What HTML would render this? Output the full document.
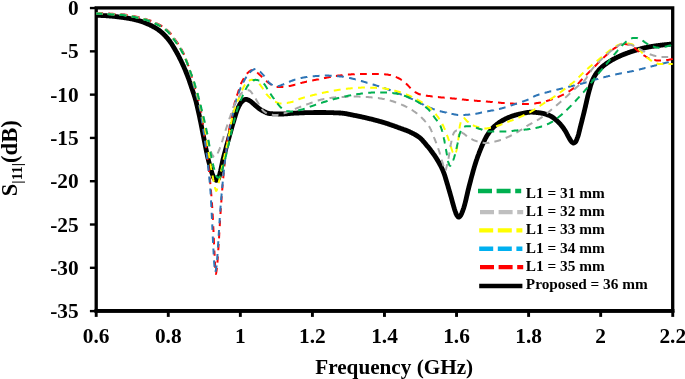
<!DOCTYPE html>
<html lang="en"><head><meta charset="utf-8"><title>S11 versus frequency for different L1</title>
<style>html,body{margin:0;padding:0;background:#fff}svg{display:block;will-change:transform;transform:translateZ(0)}text{font-family:"Liberation Serif","Times New Roman",serif;font-weight:bold;fill:#000}</style></head><body>
<svg width="685" height="379" viewBox="0 0 685 379">
<rect width="685" height="379" fill="#fff"/>
<rect x="96.2" y="7.9" width="576.5" height="303.1" fill="none" stroke="#000" stroke-width="3.3"/>
<line x1="94.55" y1="310.95" x2="674.40" y2="310.95" stroke="#000" stroke-width="3.8"/>
<g stroke="#000">
<line x1="96.20" y1="310.95" x2="96.20" y2="316.90" stroke-width="2.9"/>
<line x1="168.27" y1="310.95" x2="168.27" y2="316.90" stroke-width="2.9"/>
<line x1="240.34" y1="310.95" x2="240.34" y2="316.90" stroke-width="2.9"/>
<line x1="312.41" y1="310.95" x2="312.41" y2="316.90" stroke-width="2.9"/>
<line x1="384.47" y1="310.95" x2="384.47" y2="316.90" stroke-width="2.9"/>
<line x1="456.54" y1="310.95" x2="456.54" y2="316.90" stroke-width="2.9"/>
<line x1="528.61" y1="310.95" x2="528.61" y2="316.90" stroke-width="2.9"/>
<line x1="600.68" y1="310.95" x2="600.68" y2="316.90" stroke-width="2.9"/>
<line x1="672.75" y1="310.95" x2="672.75" y2="316.90" stroke-width="2.9"/>
<line x1="89.90" y1="8.05" x2="96.20" y2="8.05" stroke-width="2.4"/>
<line x1="89.90" y1="51.34" x2="96.20" y2="51.34" stroke-width="2.4"/>
<line x1="89.90" y1="94.64" x2="96.20" y2="94.64" stroke-width="2.4"/>
<line x1="89.90" y1="137.93" x2="96.20" y2="137.93" stroke-width="2.4"/>
<line x1="89.90" y1="181.22" x2="96.20" y2="181.22" stroke-width="2.4"/>
<line x1="89.90" y1="224.51" x2="96.20" y2="224.51" stroke-width="2.4"/>
<line x1="89.90" y1="267.81" x2="96.20" y2="267.81" stroke-width="2.4"/>
<line x1="89.90" y1="311.10" x2="96.20" y2="311.10" stroke-width="2.4"/>
</g>
<g fill="none" stroke-linejoin="round">
<path d="M96.2 15.3 L96.6 15.3 L97.0 15.3 L97.4 15.3 L97.8 15.3 L98.2 15.3 L98.6 15.4 L99.0 15.4 L99.4 15.4 L99.8 15.4 L100.2 15.4 L100.6 15.4 L101.0 15.5 L101.4 15.5 L101.8 15.5 L102.2 15.5 L102.6 15.5 L103.0 15.6 L103.4 15.6 L103.8 15.6 L104.2 15.6 L104.6 15.6 L105.0 15.7 L105.4 15.7 L105.8 15.7 L106.2 15.7 L106.6 15.8 L107.0 15.8 L107.4 15.8 L107.8 15.8 L108.2 15.9 L108.6 15.9 L109.0 15.9 L109.4 16.0 L109.8 16.0 L110.2 16.0 L110.6 16.0 L111.0 16.1 L111.4 16.1 L111.8 16.1 L112.2 16.2 L112.6 16.2 L113.0 16.3 L113.4 16.3 L113.8 16.3 L114.2 16.4 L114.6 16.4 L115.0 16.5 L115.4 16.5 L115.8 16.6 L116.2 16.6 L116.6 16.7 L117.0 16.7 L117.4 16.8 L117.8 16.8 L118.2 16.9 L118.6 16.9 L119.0 17.0 L119.4 17.0 L119.8 17.1 L120.2 17.1 L120.6 17.2 L121.0 17.2 L121.4 17.3 L121.8 17.3 L122.2 17.4 L122.6 17.4 L123.0 17.5 L123.4 17.5 L123.8 17.6 L124.2 17.7 L124.6 17.7 L125.0 17.8 L125.4 17.8 L125.8 17.9 L126.2 18.0 L126.6 18.0 L127.0 18.1 L127.4 18.1 L127.8 18.2 L128.2 18.3 L128.6 18.4 L129.0 18.4 L129.4 18.5 L129.8 18.6 L130.2 18.6 L130.6 18.7 L131.0 18.8 L131.4 18.9 L131.8 18.9 L132.2 19.0 L132.6 19.1 L133.0 19.2 L133.4 19.3 L133.8 19.4 L134.2 19.5 L134.6 19.6 L135.0 19.7 L135.4 19.8 L135.8 19.9 L136.2 20.0 L136.6 20.1 L137.0 20.2 L137.4 20.3 L137.8 20.4 L138.2 20.5 L138.6 20.6 L139.0 20.7 L139.4 20.8 L139.8 20.9 L140.2 21.1 L140.6 21.2 L141.0 21.3 L141.4 21.4 L141.8 21.6 L142.2 21.7 L142.6 21.9 L143.0 22.0 L143.4 22.2 L143.8 22.3 L144.2 22.5 L144.6 22.6 L145.0 22.8 L145.4 22.9 L145.8 23.1 L146.2 23.3 L146.6 23.4 L147.0 23.6 L147.4 23.8 L147.8 24.0 L148.2 24.2 L148.6 24.3 L149.0 24.5 L149.4 24.7 L149.8 24.9 L150.2 25.1 L150.6 25.3 L151.0 25.5 L151.4 25.7 L151.8 25.9 L152.2 26.1 L152.6 26.3 L153.0 26.5 L153.4 26.7 L153.8 27.0 L154.2 27.2 L154.6 27.4 L155.0 27.6 L155.4 27.9 L155.8 28.1 L156.2 28.4 L156.6 28.6 L157.0 28.9 L157.4 29.1 L157.8 29.4 L158.2 29.7 L158.6 30.0 L159.0 30.3 L159.4 30.5 L159.8 30.8 L160.2 31.2 L160.6 31.5 L161.0 31.8 L161.4 32.1 L161.8 32.5 L162.2 32.8 L162.6 33.2 L163.0 33.6 L163.4 34.0 L163.8 34.4 L164.2 34.8 L164.6 35.2 L165.0 35.6 L165.4 36.0 L165.8 36.5 L166.2 36.9 L166.6 37.4 L167.0 37.8 L167.4 38.3 L167.8 38.8 L168.2 39.3 L168.6 39.7 L169.0 40.2 L169.4 40.7 L169.8 41.3 L170.2 41.8 L170.6 42.4 L171.0 42.9 L171.4 43.5 L171.8 44.1 L172.2 44.8 L172.6 45.4 L173.0 46.1 L173.4 46.8 L173.8 47.4 L174.2 48.1 L174.6 48.8 L175.0 49.5 L175.4 50.2 L175.8 50.9 L176.2 51.6 L176.6 52.3 L177.0 53.0 L177.4 53.7 L177.8 54.5 L178.2 55.2 L178.6 56.0 L179.0 56.8 L179.4 57.6 L179.8 58.4 L180.2 59.2 L180.6 60.0 L181.0 60.8 L181.4 61.6 L181.8 62.5 L182.2 63.3 L182.6 64.2 L183.0 65.1 L183.4 65.9 L183.8 66.8 L184.2 67.7 L184.6 68.7 L185.0 69.6 L185.4 70.5 L185.8 71.5 L186.2 72.5 L186.6 73.5 L187.0 74.5 L187.4 75.5 L187.8 76.6 L188.2 77.7 L188.6 78.8 L189.0 79.9 L189.4 81.1 L189.8 82.2 L190.2 83.4 L190.6 84.6 L191.0 85.8 L191.4 87.0 L191.8 88.2 L192.2 89.3 L192.6 90.5 L193.0 91.7 L193.4 92.9 L193.8 94.1 L194.2 95.3 L194.6 96.6 L195.0 97.9 L195.4 99.3 L195.8 100.7 L196.2 102.2 L196.6 103.8 L197.0 105.5 L197.4 107.2 L197.8 108.9 L198.2 110.7 L198.6 112.5 L199.0 114.3 L199.4 116.1 L199.8 118.0 L200.2 119.9 L200.6 121.8 L201.0 123.9 L201.4 125.9 L201.8 127.9 L202.2 130.0 L202.6 132.0 L203.0 134.0 L203.4 136.0 L203.8 138.0 L204.2 140.0 L204.6 142.0 L205.0 144.1 L205.4 146.1 L205.8 148.1 L206.2 150.0 L206.6 152.0 L207.0 153.8 L207.4 155.7 L207.8 157.5 L208.2 159.2 L208.6 160.8 L209.0 162.4 L209.4 164.0 L209.8 165.6 L210.2 167.1 L210.6 168.6 L211.0 170.0 L211.4 171.3 L211.8 172.6 L212.2 173.7 L212.6 174.8 L213.0 175.9 L213.4 177.0 L213.8 177.9 L214.2 178.6 L214.6 179.1 L215.0 179.5 L215.4 179.9 L215.8 180.2 L216.2 180.3 L216.6 180.3 L217.0 180.1 L217.4 179.8 L217.8 179.4 L218.2 179.0 L218.6 178.3 L219.0 177.1 L219.4 175.6 L219.8 174.0 L220.2 172.4 L220.6 170.8 L221.0 169.0 L221.4 167.1 L221.8 165.1 L222.2 163.2 L222.6 161.3 L223.0 159.6 L223.4 158.0 L223.8 156.4 L224.2 154.8 L224.6 153.3 L225.0 151.8 L225.4 150.3 L225.8 148.8 L226.2 147.4 L226.6 145.9 L227.0 144.5 L227.4 143.1 L227.8 141.7 L228.2 140.3 L228.6 138.9 L229.0 137.5 L229.4 136.1 L229.8 134.7 L230.2 133.3 L230.6 131.8 L231.0 130.4 L231.4 129.0 L231.8 127.5 L232.2 126.1 L232.6 124.7 L233.0 123.3 L233.4 122.0 L233.8 120.7 L234.2 119.3 L234.6 118.0 L235.0 116.7 L235.4 115.4 L235.8 114.1 L236.2 112.8 L236.6 111.6 L237.0 110.5 L237.4 109.4 L237.8 108.4 L238.2 107.6 L238.6 106.8 L239.0 106.0 L239.4 105.2 L239.8 104.5 L240.2 103.8 L240.6 103.1 L241.0 102.6 L241.4 102.1 L241.8 101.7 L242.2 101.3 L242.6 101.0 L243.0 100.7 L243.4 100.4 L243.8 100.1 L244.2 99.9 L244.6 99.7 L245.0 99.5 L245.4 99.4 L245.8 99.3 L246.2 99.3 L246.6 99.4 L247.0 99.5 L247.4 99.6 L247.8 99.8 L248.2 100.0 L248.6 100.2 L249.0 100.4 L249.4 100.7 L249.8 100.9 L250.2 101.1 L250.6 101.4 L251.0 101.6 L251.4 101.9 L251.8 102.3 L252.2 102.6 L252.6 103.0 L253.0 103.3 L253.4 103.7 L253.8 104.1 L254.2 104.4 L254.6 104.8 L255.0 105.2 L255.4 105.5 L255.8 105.8 L256.2 106.2 L256.6 106.5 L257.0 106.8 L257.4 107.1 L257.8 107.5 L258.2 107.8 L258.6 108.1 L259.0 108.5 L259.4 108.8 L259.8 109.1 L260.2 109.4 L260.6 109.7 L261.0 109.9 L261.4 110.2 L261.8 110.4 L262.2 110.6 L262.6 110.8 L263.0 111.0 L263.4 111.2 L263.8 111.4 L264.2 111.6 L264.6 111.8 L265.0 112.0 L265.4 112.2 L265.8 112.4 L266.2 112.6 L266.6 112.8 L267.0 112.9 L267.4 113.0 L267.8 113.2 L268.2 113.3 L268.6 113.4 L269.0 113.5 L269.4 113.5 L269.8 113.6 L270.2 113.6 L270.6 113.6 L271.0 113.7 L271.4 113.7 L271.8 113.7 L272.2 113.7 L272.6 113.8 L273.0 113.8 L273.4 113.8 L273.8 113.8 L274.2 113.8 L274.6 113.8 L275.0 113.9 L275.4 113.9 L275.8 113.9 L276.2 113.9 L276.6 113.9 L277.0 113.9 L277.4 113.9 L277.8 113.9 L278.2 114.0 L278.6 114.0 L279.0 114.0 L279.4 114.0 L279.8 114.0 L280.2 114.0 L280.6 114.0 L281.0 114.0 L281.4 114.0 L281.8 114.0 L282.2 114.0 L282.6 114.0 L283.0 114.0 L283.4 114.0 L283.8 114.0 L284.2 113.9 L284.6 113.9 L285.0 113.9 L285.4 113.9 L285.8 113.9 L286.2 113.8 L286.6 113.8 L287.0 113.8 L287.4 113.7 L287.8 113.7 L288.2 113.7 L288.6 113.6 L289.0 113.6 L289.4 113.6 L289.8 113.5 L290.2 113.5 L290.6 113.4 L291.0 113.4 L291.4 113.4 L291.8 113.3 L292.2 113.3 L292.6 113.3 L293.0 113.3 L293.4 113.2 L293.8 113.2 L294.2 113.2 L294.6 113.2 L295.0 113.1 L295.4 113.1 L295.8 113.1 L296.2 113.1 L296.6 113.1 L297.0 113.0 L297.4 113.0 L297.8 113.0 L298.2 113.0 L298.6 113.0 L299.0 113.0 L299.4 112.9 L299.8 112.9 L300.2 112.9 L300.6 112.9 L301.0 112.9 L301.4 112.8 L301.8 112.8 L302.2 112.8 L302.6 112.8 L303.0 112.8 L303.4 112.8 L303.8 112.8 L304.2 112.7 L304.6 112.7 L305.0 112.7 L305.4 112.7 L305.8 112.7 L306.2 112.7 L306.6 112.7 L307.0 112.7 L307.4 112.7 L307.8 112.7 L308.2 112.7 L308.6 112.6 L309.0 112.6 L309.4 112.6 L309.8 112.6 L310.2 112.6 L310.6 112.6 L311.0 112.6 L311.4 112.6 L311.8 112.6 L312.2 112.6 L312.6 112.6 L313.0 112.6 L313.4 112.6 L313.8 112.5 L314.2 112.5 L314.6 112.5 L315.0 112.5 L315.4 112.5 L315.8 112.5 L316.2 112.5 L316.6 112.5 L317.0 112.5 L317.4 112.5 L317.8 112.5 L318.2 112.5 L318.6 112.5 L319.0 112.5 L319.4 112.5 L319.8 112.5 L320.2 112.5 L320.6 112.5 L321.0 112.5 L321.4 112.5 L321.8 112.5 L322.2 112.5 L322.6 112.5 L323.0 112.5 L323.4 112.5 L323.8 112.5 L324.2 112.5 L324.6 112.5 L325.0 112.5 L325.4 112.5 L325.8 112.5 L326.2 112.6 L326.6 112.6 L327.0 112.6 L327.4 112.6 L327.8 112.6 L328.2 112.6 L328.6 112.6 L329.0 112.6 L329.4 112.6 L329.8 112.6 L330.2 112.6 L330.6 112.7 L331.0 112.7 L331.4 112.7 L331.8 112.7 L332.2 112.7 L332.6 112.7 L333.0 112.7 L333.4 112.7 L333.8 112.8 L334.2 112.8 L334.6 112.8 L335.0 112.8 L335.4 112.8 L335.8 112.8 L336.2 112.8 L336.6 112.9 L337.0 112.9 L337.4 112.9 L337.8 112.9 L338.2 112.9 L338.6 112.9 L339.0 113.0 L339.4 113.0 L339.8 113.0 L340.2 113.0 L340.6 113.0 L341.0 113.1 L341.4 113.1 L341.8 113.1 L342.2 113.2 L342.6 113.2 L343.0 113.3 L343.4 113.3 L343.8 113.4 L344.2 113.4 L344.6 113.5 L345.0 113.5 L345.4 113.6 L345.8 113.7 L346.2 113.7 L346.6 113.8 L347.0 113.9 L347.4 114.0 L347.8 114.0 L348.2 114.1 L348.6 114.2 L349.0 114.3 L349.4 114.4 L349.8 114.4 L350.2 114.5 L350.6 114.6 L351.0 114.7 L351.4 114.8 L351.8 114.9 L352.2 114.9 L352.6 115.0 L353.0 115.1 L353.4 115.2 L353.8 115.3 L354.2 115.3 L354.6 115.4 L355.0 115.5 L355.4 115.6 L355.8 115.7 L356.2 115.7 L356.6 115.8 L357.0 115.9 L357.4 116.0 L357.8 116.0 L358.2 116.1 L358.6 116.2 L359.0 116.3 L359.4 116.4 L359.8 116.5 L360.2 116.5 L360.6 116.6 L361.0 116.7 L361.4 116.8 L361.8 116.9 L362.2 117.0 L362.6 117.1 L363.0 117.2 L363.4 117.3 L363.8 117.3 L364.2 117.4 L364.6 117.5 L365.0 117.6 L365.4 117.7 L365.8 117.8 L366.2 117.9 L366.6 118.0 L367.0 118.1 L367.4 118.2 L367.8 118.3 L368.2 118.4 L368.6 118.5 L369.0 118.6 L369.4 118.7 L369.8 118.8 L370.2 118.8 L370.6 118.9 L371.0 119.0 L371.4 119.1 L371.8 119.2 L372.2 119.3 L372.6 119.4 L373.0 119.5 L373.4 119.6 L373.8 119.8 L374.2 119.9 L374.6 120.0 L375.0 120.1 L375.4 120.2 L375.8 120.3 L376.2 120.4 L376.6 120.5 L377.0 120.6 L377.4 120.7 L377.8 120.8 L378.2 120.9 L378.6 121.0 L379.0 121.1 L379.4 121.3 L379.8 121.4 L380.2 121.5 L380.6 121.6 L381.0 121.7 L381.4 121.8 L381.8 121.9 L382.2 122.1 L382.6 122.2 L383.0 122.3 L383.4 122.4 L383.8 122.5 L384.2 122.7 L384.6 122.8 L385.0 122.9 L385.4 123.0 L385.8 123.2 L386.2 123.3 L386.6 123.4 L387.0 123.5 L387.4 123.7 L387.8 123.8 L388.2 123.9 L388.6 124.1 L389.0 124.2 L389.4 124.3 L389.8 124.5 L390.2 124.6 L390.6 124.8 L391.0 124.9 L391.4 125.0 L391.8 125.2 L392.2 125.3 L392.6 125.5 L393.0 125.6 L393.4 125.7 L393.8 125.9 L394.2 126.0 L394.6 126.2 L395.0 126.3 L395.4 126.5 L395.8 126.6 L396.2 126.7 L396.6 126.9 L397.0 127.0 L397.4 127.2 L397.8 127.3 L398.2 127.5 L398.6 127.6 L399.0 127.8 L399.4 127.9 L399.8 128.0 L400.2 128.2 L400.6 128.3 L401.0 128.5 L401.4 128.6 L401.8 128.8 L402.2 128.9 L402.6 129.0 L403.0 129.2 L403.4 129.3 L403.8 129.5 L404.2 129.6 L404.6 129.8 L405.0 129.9 L405.4 130.1 L405.8 130.2 L406.2 130.4 L406.6 130.5 L407.0 130.7 L407.4 130.9 L407.8 131.0 L408.2 131.2 L408.6 131.4 L409.0 131.5 L409.4 131.7 L409.8 131.9 L410.2 132.1 L410.6 132.3 L411.0 132.5 L411.4 132.7 L411.8 132.9 L412.2 133.1 L412.6 133.3 L413.0 133.5 L413.4 133.7 L413.8 133.9 L414.2 134.1 L414.6 134.3 L415.0 134.5 L415.4 134.8 L415.8 135.0 L416.2 135.3 L416.6 135.5 L417.0 135.8 L417.4 136.0 L417.8 136.3 L418.2 136.6 L418.6 136.8 L419.0 137.1 L419.4 137.4 L419.8 137.7 L420.2 138.1 L420.6 138.4 L421.0 138.8 L421.4 139.2 L421.8 139.6 L422.2 140.0 L422.6 140.5 L423.0 140.9 L423.4 141.4 L423.8 141.9 L424.2 142.3 L424.6 142.8 L425.0 143.3 L425.4 143.8 L425.8 144.3 L426.2 144.7 L426.6 145.2 L427.0 145.7 L427.4 146.2 L427.8 146.6 L428.2 147.1 L428.6 147.6 L429.0 148.1 L429.4 148.6 L429.8 149.1 L430.2 149.6 L430.6 150.1 L431.0 150.7 L431.4 151.2 L431.8 151.7 L432.2 152.3 L432.6 152.8 L433.0 153.4 L433.4 153.9 L433.8 154.5 L434.2 155.1 L434.6 155.6 L435.0 156.2 L435.4 156.8 L435.8 157.4 L436.2 158.1 L436.6 158.7 L437.0 159.3 L437.4 160.0 L437.8 160.7 L438.2 161.3 L438.6 162.0 L439.0 162.7 L439.4 163.5 L439.8 164.2 L440.2 164.9 L440.6 165.7 L441.0 166.5 L441.4 167.3 L441.8 168.1 L442.2 169.0 L442.6 169.9 L443.0 170.8 L443.4 171.8 L443.8 172.8 L444.2 173.9 L444.6 175.1 L445.0 176.3 L445.4 177.6 L445.8 179.0 L446.2 180.3 L446.6 181.7 L447.0 183.0 L447.4 184.3 L447.8 185.6 L448.2 187.0 L448.6 188.4 L449.0 189.7 L449.4 191.1 L449.8 192.5 L450.2 193.9 L450.6 195.3 L451.0 196.7 L451.4 198.2 L451.8 199.7 L452.2 201.1 L452.6 202.6 L453.0 204.0 L453.4 205.4 L453.8 206.8 L454.2 208.2 L454.6 209.5 L455.0 210.7 L455.4 211.8 L455.8 213.0 L456.2 214.0 L456.6 214.9 L457.0 215.6 L457.4 216.1 L457.8 216.6 L458.2 217.0 L458.6 217.2 L459.0 217.1 L459.4 216.9 L459.8 216.5 L460.2 216.0 L460.6 215.5 L461.0 214.8 L461.4 214.1 L461.8 213.2 L462.2 212.2 L462.6 211.1 L463.0 210.0 L463.4 208.9 L463.8 207.7 L464.2 206.4 L464.6 205.0 L465.0 203.5 L465.4 201.9 L465.8 200.3 L466.2 198.6 L466.6 196.8 L467.0 195.1 L467.4 193.4 L467.8 191.6 L468.2 189.9 L468.6 188.3 L469.0 186.6 L469.4 185.1 L469.8 183.6 L470.2 182.1 L470.6 180.6 L471.0 179.0 L471.4 177.5 L471.8 176.0 L472.2 174.6 L472.6 173.1 L473.0 171.6 L473.4 170.2 L473.8 168.8 L474.2 167.4 L474.6 166.1 L475.0 164.8 L475.4 163.5 L475.8 162.2 L476.2 161.0 L476.6 159.8 L477.0 158.7 L477.4 157.5 L477.8 156.4 L478.2 155.3 L478.6 154.3 L479.0 153.2 L479.4 152.2 L479.8 151.1 L480.2 150.1 L480.6 149.1 L481.0 148.2 L481.4 147.2 L481.8 146.3 L482.2 145.3 L482.6 144.4 L483.0 143.6 L483.4 142.7 L483.8 141.8 L484.2 141.0 L484.6 140.1 L485.0 139.3 L485.4 138.5 L485.8 137.7 L486.2 137.0 L486.6 136.3 L487.0 135.6 L487.4 135.0 L487.8 134.4 L488.2 133.8 L488.6 133.2 L489.0 132.6 L489.4 132.0 L489.8 131.5 L490.2 131.0 L490.6 130.4 L491.0 129.9 L491.4 129.5 L491.8 129.0 L492.2 128.5 L492.6 128.1 L493.0 127.7 L493.4 127.3 L493.8 126.9 L494.2 126.5 L494.6 126.2 L495.0 125.8 L495.4 125.5 L495.8 125.1 L496.2 124.8 L496.6 124.5 L497.0 124.2 L497.4 123.9 L497.8 123.6 L498.2 123.3 L498.6 123.0 L499.0 122.7 L499.4 122.4 L499.8 122.2 L500.2 121.9 L500.6 121.6 L501.0 121.4 L501.4 121.2 L501.8 120.9 L502.2 120.7 L502.6 120.5 L503.0 120.2 L503.4 120.0 L503.8 119.8 L504.2 119.6 L504.6 119.3 L505.0 119.1 L505.4 118.9 L505.8 118.7 L506.2 118.5 L506.6 118.3 L507.0 118.2 L507.4 118.0 L507.8 117.8 L508.2 117.6 L508.6 117.4 L509.0 117.3 L509.4 117.1 L509.8 117.0 L510.2 116.8 L510.6 116.7 L511.0 116.5 L511.4 116.4 L511.8 116.2 L512.2 116.1 L512.6 116.0 L513.0 115.8 L513.4 115.7 L513.8 115.6 L514.2 115.5 L514.6 115.4 L515.0 115.2 L515.4 115.1 L515.8 115.0 L516.2 114.9 L516.6 114.8 L517.0 114.7 L517.4 114.6 L517.8 114.5 L518.2 114.4 L518.6 114.3 L519.0 114.2 L519.4 114.1 L519.8 114.0 L520.2 114.0 L520.6 113.9 L521.0 113.8 L521.4 113.7 L521.8 113.6 L522.2 113.5 L522.6 113.4 L523.0 113.3 L523.4 113.3 L523.8 113.2 L524.2 113.1 L524.6 113.0 L525.0 112.9 L525.4 112.8 L525.8 112.8 L526.2 112.7 L526.6 112.6 L527.0 112.5 L527.4 112.5 L527.8 112.4 L528.2 112.4 L528.6 112.3 L529.0 112.3 L529.4 112.3 L529.8 112.2 L530.2 112.2 L530.6 112.2 L531.0 112.2 L531.4 112.2 L531.8 112.2 L532.2 112.2 L532.6 112.2 L533.0 112.2 L533.4 112.3 L533.8 112.3 L534.2 112.3 L534.6 112.3 L535.0 112.4 L535.4 112.4 L535.8 112.4 L536.2 112.5 L536.6 112.5 L537.0 112.6 L537.4 112.6 L537.8 112.6 L538.2 112.7 L538.6 112.7 L539.0 112.8 L539.4 112.8 L539.8 112.9 L540.2 112.9 L540.6 113.0 L541.0 113.0 L541.4 113.1 L541.8 113.2 L542.2 113.3 L542.6 113.3 L543.0 113.4 L543.4 113.5 L543.8 113.6 L544.2 113.7 L544.6 113.9 L545.0 114.0 L545.4 114.1 L545.8 114.2 L546.2 114.3 L546.6 114.5 L547.0 114.6 L547.4 114.8 L547.8 114.9 L548.2 115.1 L548.6 115.2 L549.0 115.4 L549.4 115.5 L549.8 115.7 L550.2 115.9 L550.6 116.1 L551.0 116.3 L551.4 116.5 L551.8 116.7 L552.2 117.0 L552.6 117.3 L553.0 117.5 L553.4 117.8 L553.8 118.1 L554.2 118.4 L554.6 118.8 L555.0 119.1 L555.4 119.4 L555.8 119.8 L556.2 120.1 L556.6 120.5 L557.0 120.9 L557.4 121.2 L557.8 121.6 L558.2 122.0 L558.6 122.4 L559.0 122.8 L559.4 123.2 L559.8 123.6 L560.2 124.1 L560.6 124.6 L561.0 125.0 L561.4 125.5 L561.8 126.0 L562.2 126.5 L562.6 127.1 L563.0 127.6 L563.4 128.1 L563.8 128.7 L564.2 129.3 L564.6 129.9 L565.0 130.5 L565.4 131.1 L565.8 131.8 L566.2 132.5 L566.6 133.3 L567.0 134.1 L567.4 134.8 L567.8 135.6 L568.2 136.4 L568.6 137.1 L569.0 137.8 L569.4 138.5 L569.8 139.2 L570.2 139.8 L570.6 140.5 L571.0 141.1 L571.4 141.6 L571.8 142.0 L572.2 142.3 L572.6 142.6 L573.0 142.8 L573.4 143.0 L573.8 143.0 L574.2 142.9 L574.6 142.7 L575.0 142.4 L575.4 142.0 L575.8 141.5 L576.2 140.8 L576.6 139.9 L577.0 138.9 L577.4 137.8 L577.8 136.7 L578.2 135.5 L578.6 134.1 L579.0 132.5 L579.4 130.9 L579.8 129.2 L580.2 127.6 L580.6 126.0 L581.0 124.4 L581.4 122.9 L581.8 121.3 L582.2 119.7 L582.6 118.1 L583.0 116.5 L583.4 114.9 L583.8 113.3 L584.2 111.6 L584.6 110.0 L585.0 108.3 L585.4 106.6 L585.8 104.8 L586.2 103.1 L586.6 101.3 L587.0 99.5 L587.4 97.8 L587.8 96.1 L588.2 94.5 L588.6 93.0 L589.0 91.5 L589.4 90.0 L589.8 88.6 L590.2 87.1 L590.6 85.7 L591.0 84.4 L591.4 83.2 L591.8 82.0 L592.2 80.9 L592.6 80.0 L593.0 79.1 L593.4 78.3 L593.8 77.5 L594.2 76.8 L594.6 76.1 L595.0 75.4 L595.4 74.7 L595.8 74.1 L596.2 73.5 L596.6 73.0 L597.0 72.4 L597.4 71.9 L597.8 71.4 L598.2 70.9 L598.6 70.4 L599.0 70.0 L599.4 69.5 L599.8 69.1 L600.2 68.7 L600.6 68.3 L601.0 67.9 L601.4 67.6 L601.8 67.2 L602.2 66.8 L602.6 66.5 L603.0 66.2 L603.4 65.8 L603.8 65.5 L604.2 65.2 L604.6 64.9 L605.0 64.6 L605.4 64.3 L605.8 64.0 L606.2 63.7 L606.6 63.5 L607.0 63.2 L607.4 62.9 L607.8 62.6 L608.2 62.4 L608.6 62.1 L609.0 61.8 L609.4 61.6 L609.8 61.3 L610.2 61.1 L610.6 60.8 L611.0 60.6 L611.4 60.4 L611.8 60.1 L612.2 59.9 L612.6 59.7 L613.0 59.5 L613.4 59.2 L613.8 59.0 L614.2 58.8 L614.6 58.6 L615.0 58.4 L615.4 58.2 L615.8 58.0 L616.2 57.8 L616.6 57.6 L617.0 57.4 L617.4 57.2 L617.8 57.0 L618.2 56.8 L618.6 56.6 L619.0 56.4 L619.4 56.3 L619.8 56.1 L620.2 55.9 L620.6 55.7 L621.0 55.6 L621.4 55.4 L621.8 55.2 L622.2 55.0 L622.6 54.9 L623.0 54.7 L623.4 54.6 L623.8 54.4 L624.2 54.2 L624.6 54.1 L625.0 53.9 L625.4 53.8 L625.8 53.6 L626.2 53.4 L626.6 53.3 L627.0 53.1 L627.4 53.0 L627.8 52.8 L628.2 52.7 L628.6 52.6 L629.0 52.4 L629.4 52.3 L629.8 52.1 L630.2 52.0 L630.6 51.9 L631.0 51.7 L631.4 51.6 L631.8 51.5 L632.2 51.3 L632.6 51.2 L633.0 51.1 L633.4 51.0 L633.8 50.8 L634.2 50.7 L634.6 50.6 L635.0 50.5 L635.4 50.3 L635.8 50.2 L636.2 50.1 L636.6 50.0 L637.0 49.9 L637.4 49.7 L637.8 49.6 L638.2 49.5 L638.6 49.4 L639.0 49.3 L639.4 49.2 L639.8 49.1 L640.2 49.0 L640.6 48.8 L641.0 48.7 L641.4 48.6 L641.8 48.5 L642.2 48.4 L642.6 48.3 L643.0 48.2 L643.4 48.1 L643.8 48.0 L644.2 47.9 L644.6 47.8 L645.0 47.7 L645.4 47.7 L645.8 47.6 L646.2 47.5 L646.6 47.4 L647.0 47.3 L647.4 47.2 L647.8 47.2 L648.2 47.1 L648.6 47.0 L649.0 46.9 L649.4 46.9 L649.8 46.8 L650.2 46.7 L650.6 46.6 L651.0 46.6 L651.4 46.5 L651.8 46.4 L652.2 46.4 L652.6 46.3 L653.0 46.3 L653.4 46.2 L653.8 46.1 L654.2 46.1 L654.6 46.0 L655.0 46.0 L655.4 45.9 L655.8 45.8 L656.2 45.8 L656.6 45.7 L657.0 45.7 L657.4 45.6 L657.8 45.6 L658.2 45.5 L658.6 45.5 L659.0 45.4 L659.4 45.4 L659.8 45.3 L660.2 45.3 L660.6 45.2 L661.0 45.2 L661.4 45.1 L661.8 45.1 L662.2 45.0 L662.6 45.0 L663.0 44.9 L663.4 44.9 L663.8 44.9 L664.2 44.8 L664.6 44.8 L665.0 44.7 L665.4 44.7 L665.8 44.6 L666.2 44.6 L666.6 44.6 L667.0 44.5 L667.4 44.5 L667.8 44.4 L668.2 44.4 L668.6 44.4 L669.0 44.3 L669.4 44.3 L669.8 44.2 L670.2 44.2 L670.6 44.2 L671.0 44.1 L671.4 44.1 L671.8 44.1 L672.2 44.0 L672.6 44.0 L672.8 44.0" stroke="#000" stroke-width="4.8" stroke-linecap="butt"/>
<path d="M96.9 13.0 L97.4 13.0 L97.9 13.1 L98.4 13.1 L98.9 13.1 L99.4 13.1 L99.9 13.2 L100.4 13.2 L100.9 13.2 L101.4 13.2 L101.9 13.3 L102.4 13.3 L102.9 13.3 L103.1 13.3 M108.5 13.6 L109.0 13.6 L109.5 13.6 L110.0 13.7 L110.5 13.7 L111.0 13.7 L111.5 13.8 L112.0 13.8 L112.5 13.8 L113.0 13.8 L113.5 13.9 L114.0 13.9 L114.5 13.9 L115.0 13.9 L115.4 13.9 M120.7 14.3 L121.2 14.3 L121.7 14.3 L122.2 14.4 L122.7 14.4 L123.2 14.5 L123.7 14.5 L124.2 14.6 L124.7 14.6 L125.2 14.7 L125.7 14.8 L126.2 14.8 L126.7 14.9 L127.2 15.0 L127.6 15.0 M132.8 16.0 L133.3 16.1 L133.8 16.2 L134.3 16.3 L134.8 16.4 L135.3 16.5 L135.8 16.6 L136.3 16.7 L136.8 16.8 L137.3 17.0 L137.8 17.1 L138.3 17.2 L138.8 17.3 L139.3 17.4 L139.6 17.5 M144.8 18.8 L145.3 19.0 L145.8 19.1 L146.3 19.3 L146.8 19.4 L147.3 19.6 L147.8 19.8 L148.3 19.9 L148.8 20.1 L149.3 20.3 L149.8 20.5 L150.3 20.6 L150.8 20.8 L151.3 21.0 M156.2 23.2 L156.7 23.4 L157.2 23.6 L157.6 23.9 L158.1 24.1 L158.5 24.3 L159.0 24.5 L159.4 24.8 L159.9 25.0 L160.3 25.3 L160.8 25.5 L161.2 25.8 L161.7 26.0 L162.1 26.3 L162.3 26.4 M166.6 29.5 L167.0 29.8 L167.4 30.2 L167.8 30.5 L168.2 30.9 L168.6 31.3 L169.0 31.6 L169.3 32.0 L169.7 32.4 L170.0 32.8 L170.4 33.2 L170.7 33.6 L171.1 34.1 L171.3 34.4 M174.5 38.7 L174.8 39.2 L175.1 39.6 L175.4 40.0 L175.7 40.4 L176.0 40.8 L176.3 41.2 L176.6 41.7 L176.9 42.1 L177.2 42.5 L177.5 42.9 L177.8 43.4 L178.1 43.8 L178.4 44.2 M181.3 48.8 L181.5 49.2 L181.8 49.7 L182.0 50.2 L182.3 50.7 L182.5 51.2 L182.8 51.7 L183.0 52.2 L183.3 52.7 L183.5 53.3 L183.8 53.8 L184.0 54.4 L184.2 54.8 M186.3 59.8 L186.5 60.4 L186.7 60.9 L186.9 61.5 L187.1 62.0 L187.3 62.6 L187.5 63.2 L187.7 63.8 L187.9 64.4 L188.1 65.0 L188.3 65.6 L188.5 66.2 M190.1 71.3 L190.2 71.7 L190.4 72.2 L190.5 72.7 L190.7 73.2 L190.8 73.7 L191.0 74.1 L191.1 74.6 L191.3 75.1 L191.4 75.6 L191.6 76.1 L191.7 76.6 L191.9 77.1 L192.0 77.6 M193.6 82.9 L193.7 83.5 L193.9 84.0 L194.0 84.5 L194.2 85.1 L194.3 85.6 L194.5 86.1 L194.6 86.7 L194.8 87.2 L194.9 87.7 L195.1 88.2 L195.2 88.7 L195.4 89.2 M196.9 94.4 L197.1 94.9 L197.2 95.4 L197.4 95.9 L197.5 96.4 L197.7 97.0 L197.8 97.5 L198.0 98.0 L198.1 98.5 L198.3 99.1 L198.4 99.6 L198.6 100.2 L198.7 100.8 M200.0 106.2 L200.2 106.9 L200.3 107.6 L200.5 108.3 L200.6 108.8 L200.7 109.3 L200.8 109.8 L200.9 110.3 L201.0 110.9 L201.1 111.5 L201.2 112.1 L201.3 112.7 M202.0 117.9 L202.1 118.7 L202.2 119.5 L202.3 120.2 L202.4 121.0 L202.5 121.8 L202.6 122.6 L202.7 123.3 L202.8 124.1 L202.9 124.5 M203.6 130.1 L203.7 130.8 L203.8 131.5 L203.9 132.2 L204.0 132.9 L204.1 133.5 L204.2 134.2 L204.3 134.9 L204.4 135.6 L204.5 136.2 L204.6 136.6 M205.4 141.9 L205.5 142.6 L205.6 143.3 L205.7 144.0 L205.8 144.7 L205.9 145.4 L206.0 146.1 L206.1 146.8 L206.2 147.5 L206.3 148.2 M207.0 154.0 L207.1 154.8 L207.2 155.6 L207.3 156.4 L207.4 157.2 L207.5 158.0 L207.6 158.8 L207.7 159.7 L207.8 160.1 M208.4 165.7 L208.5 166.5 L208.6 167.4 L208.7 168.3 L208.8 169.2 L208.9 170.1 L209.0 171.0 L209.1 172.0 M209.7 177.6 L209.8 178.5 L209.9 179.5 L210.0 180.5 L210.1 181.0 L210.1 181.5 L210.2 182.0 L210.2 182.5 L210.3 183.0 L210.3 183.6 L210.4 184.1 M210.9 189.6 L210.9 190.2 L211.0 190.8 L211.0 191.4 L211.1 191.9 L211.1 192.5 L211.2 193.1 L211.2 193.8 L211.3 194.4 L211.3 195.0 L211.4 195.6 L211.4 196.2 M211.9 202.2 L211.9 202.9 L212.0 203.6 L212.0 204.3 L212.1 205.0 L212.1 205.8 L212.2 206.5 L212.2 207.2 L212.3 208.0 M212.6 213.6 L212.7 214.4 L212.7 215.3 L212.8 216.1 L212.8 217.0 L212.9 218.0 L212.9 218.9 L213.0 219.9 M213.3 226.3 L213.3 227.4 L213.4 228.6 L213.4 229.7 L213.5 230.8 L213.5 232.0 M213.8 237.7 L213.8 238.8 L213.9 239.9 L213.9 241.1 L214.0 242.1 L214.0 243.2 L214.1 244.3 M214.4 250.6 L214.4 251.6 L214.5 252.7 L214.5 253.7 L214.6 254.7 L214.6 255.8 M214.9 261.7 L215.0 262.6 L215.0 263.5 L215.1 264.4 L215.1 265.3 L215.2 266.1 L215.2 267.0 L215.3 267.9 M215.8 273.6 L216.0 273.9 L216.1 273.4 L216.2 272.9 L216.3 272.4 L216.4 271.9 L216.5 271.2 L216.6 270.5 L216.7 269.7 L216.8 268.8 L216.9 267.9 M217.4 262.6 L217.5 261.9 L217.5 261.3 L217.6 260.6 L217.6 260.0 L217.7 259.3 L217.7 258.6 L217.8 257.9 L217.8 257.1 L217.9 256.4 M218.3 250.2 L218.3 249.4 L218.4 248.7 L218.4 247.9 L218.5 247.1 L218.5 246.3 L218.6 245.5 L218.6 244.8 L218.7 244.0 M219.0 238.3 L219.1 237.5 L219.1 236.6 L219.2 235.8 L219.2 234.9 L219.3 234.0 L219.3 233.2 L219.4 232.3 M219.7 226.2 L219.8 225.4 L219.8 224.5 L219.9 223.7 L219.9 222.8 L220.0 222.0 L220.0 221.1 L220.1 220.3 M220.5 214.0 L220.5 213.3 L220.6 212.5 L220.6 211.8 L220.7 211.0 L220.7 210.3 L220.8 209.5 L220.8 208.8 L220.9 208.1 M221.3 202.4 L221.3 201.7 L221.4 201.0 L221.4 200.3 L221.5 199.6 L221.5 198.9 L221.6 198.2 L221.6 197.6 L221.7 196.9 L221.7 196.2 M222.2 190.4 L222.2 189.8 L222.3 189.2 L222.3 188.6 L222.4 188.0 L222.4 187.4 L222.5 186.8 L222.5 186.2 L222.6 185.6 L222.6 185.0 L222.7 184.4 M223.2 178.2 L223.3 177.7 L223.3 177.1 L223.4 176.6 L223.4 176.1 L223.5 175.5 L223.5 175.0 L223.6 174.5 L223.6 173.9 L223.7 173.4 L223.7 172.9 L223.8 172.4 M224.4 166.4 L224.5 165.4 L224.6 164.5 L224.7 163.5 L224.8 162.6 L224.9 161.6 L225.0 160.7 L225.0 160.2 M225.7 154.4 L225.8 153.6 L225.9 152.8 L226.0 151.9 L226.1 151.1 L226.2 150.3 L226.3 149.5 L226.4 148.7 L226.4 148.3 M227.1 142.8 L227.2 142.1 L227.3 141.3 L227.4 140.6 L227.5 139.8 L227.6 139.1 L227.7 138.4 L227.8 137.7 L227.9 137.0 L228.0 136.3 M228.9 130.8 L229.0 130.2 L229.1 129.6 L229.2 129.1 L229.3 128.5 L229.4 128.0 L229.5 127.4 L229.6 126.9 L229.7 126.4 L229.8 125.9 L229.9 125.3 L230.0 124.8 L230.1 124.4 M231.2 119.1 L231.4 118.4 L231.5 117.7 L231.7 117.1 L231.8 116.4 L232.0 115.7 L232.1 115.1 L232.3 114.4 L232.4 113.7 L232.6 113.0 L232.7 112.6 M233.7 107.3 L233.8 106.7 L233.9 106.2 L234.0 105.7 L234.2 105.0 L234.3 104.4 L234.5 103.8 L234.6 103.2 L234.8 102.6 L234.9 102.1 L235.1 101.5 L235.2 101.0 L235.3 100.8 M236.9 95.6 L237.1 95.0 L237.3 94.4 L237.5 93.9 L237.7 93.3 L237.9 92.7 L238.1 92.1 L238.3 91.5 L238.5 90.9 L238.7 90.3 L238.9 89.7 L239.0 89.3 M240.8 84.2 L241.0 83.7 L241.2 83.2 L241.4 82.8 L241.7 82.2 L241.9 81.7 L242.2 81.2 L242.4 80.7 L242.7 80.2 L242.9 79.8 L243.2 79.3 L243.4 78.9 L243.7 78.4 L243.8 78.1 M246.8 73.8 L247.2 73.4 L247.6 73.0 L248.0 72.6 L248.4 72.3 L248.8 71.9 L249.2 71.6 L249.6 71.3 L250.0 71.0 L250.5 70.7 L250.9 70.5 L251.4 70.3 L251.9 70.2 L252.4 70.2 M257.2 72.5 L257.6 72.9 L258.0 73.3 L258.4 73.6 L258.8 74.0 L259.2 74.4 L259.6 74.7 L260.0 75.1 L260.4 75.5 L260.8 75.8 L261.2 76.2 L261.6 76.6 L262.0 77.0 L262.2 77.2 M266.1 80.9 L266.5 81.2 L266.9 81.5 L267.3 81.8 L267.7 82.2 L268.1 82.5 L268.5 82.8 L268.9 83.1 L269.4 83.4 L269.8 83.7 L270.3 84.0 L270.7 84.3 L271.2 84.6 L271.6 84.8 M276.6 86.9 L277.1 86.9 L277.6 87.0 L278.1 87.0 L278.6 87.0 L279.1 87.0 L279.6 87.0 L280.1 87.0 L280.6 87.0 L281.1 86.9 L281.6 86.9 L282.1 86.9 L282.6 86.9 L283.1 86.8 L283.4 86.8 M288.7 86.2 L289.2 86.1 L289.7 86.0 L290.2 85.9 L290.7 85.8 L291.2 85.7 L291.7 85.6 L292.2 85.4 L292.7 85.3 L293.2 85.2 L293.7 85.0 L294.2 84.9 L294.7 84.8 L295.2 84.6 L295.3 84.6 M300.4 83.1 L300.9 83.0 L301.4 82.9 L301.9 82.8 L302.4 82.6 L302.9 82.5 L303.4 82.4 L303.9 82.3 L304.4 82.2 L304.9 82.1 L305.4 82.0 L305.9 81.9 L306.4 81.7 L306.9 81.6 L307.0 81.6 M312.2 80.5 L312.7 80.4 L313.2 80.3 L313.7 80.2 L314.2 80.1 L314.7 80.0 L315.2 79.9 L315.7 79.8 L316.2 79.7 L316.7 79.6 L317.2 79.6 L317.7 79.5 L318.2 79.4 L318.7 79.3 L318.8 79.2 M324.0 78.2 L324.5 78.1 L325.0 78.0 L325.5 77.9 L326.0 77.8 L326.5 77.7 L327.0 77.6 L327.5 77.5 L328.0 77.4 L328.5 77.3 L329.0 77.2 L329.5 77.1 L330.0 77.0 L330.5 76.9 L330.7 76.8 M335.9 75.9 L336.4 75.9 L336.9 75.8 L337.4 75.7 L337.9 75.6 L338.4 75.6 L338.9 75.5 L339.4 75.5 L339.9 75.4 L340.4 75.4 L340.9 75.3 L341.4 75.3 L341.9 75.2 L342.4 75.2 L342.6 75.1 M347.9 74.6 L348.4 74.6 L348.9 74.5 L349.4 74.5 L349.9 74.5 L350.4 74.4 L350.9 74.4 L351.4 74.3 L351.9 74.3 L352.4 74.3 L352.9 74.2 L353.4 74.2 L353.9 74.2 L354.4 74.2 L354.7 74.1 M360.0 74.0 L360.5 74.0 L361.0 74.0 L361.6 74.0 L362.1 74.0 L362.7 74.0 L363.2 74.0 L363.8 74.0 L364.3 74.0 L364.9 74.0 L365.4 74.0 L366.0 74.0 L366.5 74.0 L366.8 74.0 M372.0 74.0 L372.6 74.0 L373.1 74.0 L373.7 74.0 L374.2 74.0 L374.8 74.0 L375.3 74.0 L375.9 74.0 L376.4 74.0 L377.0 74.0 L377.5 74.0 L378.1 74.0 L378.6 74.0 L378.8 74.0 M384.1 74.2 L384.6 74.3 L385.1 74.3 L385.6 74.4 L386.1 74.4 L386.6 74.5 L387.1 74.6 L387.6 74.6 L388.1 74.7 L388.6 74.8 L389.1 74.9 L389.6 74.9 L390.1 75.0 L390.6 75.1 L390.9 75.2 M395.8 76.9 L396.3 77.1 L396.8 77.4 L397.3 77.6 L397.7 77.8 L398.2 78.0 L398.6 78.3 L399.1 78.5 L399.5 78.7 L400.0 79.0 L400.4 79.2 L400.9 79.5 L401.3 79.8 L401.8 80.1 M405.9 83.5 L406.3 83.8 L406.7 84.2 L407.1 84.6 L407.5 84.9 L407.9 85.3 L408.2 85.7 L408.6 86.0 L408.9 86.4 L409.3 86.8 L409.6 87.2 L410.0 87.6 L410.3 88.0 L410.6 88.3 M414.7 91.7 L415.1 92.0 L415.6 92.3 L416.0 92.6 L416.5 92.8 L416.9 93.1 L417.4 93.3 L417.8 93.6 L418.3 93.8 L418.8 94.0 L419.3 94.2 L419.8 94.3 L420.3 94.5 L420.8 94.6 M425.9 95.6 L426.4 95.7 L426.9 95.7 L427.4 95.8 L427.9 95.9 L428.4 95.9 L428.9 96.0 L429.4 96.1 L429.9 96.1 L430.4 96.2 L430.9 96.3 L431.4 96.3 L431.9 96.4 L432.4 96.5 L432.7 96.5 M437.9 97.1 L438.4 97.1 L438.9 97.2 L439.4 97.2 L439.9 97.3 L440.4 97.3 L440.9 97.4 L441.4 97.4 L441.9 97.5 L442.4 97.5 L442.9 97.6 L443.4 97.6 L443.9 97.6 L444.4 97.7 L444.7 97.7 M449.9 98.2 L450.4 98.2 L450.9 98.3 L451.4 98.3 L451.9 98.4 L452.4 98.4 L452.9 98.5 L453.4 98.5 L453.9 98.6 L454.4 98.6 L454.9 98.7 L455.4 98.7 L455.9 98.8 L456.4 98.8 L456.7 98.9 M461.9 99.4 L462.4 99.5 L462.9 99.5 L463.4 99.6 L463.9 99.6 L464.4 99.7 L464.9 99.7 L465.4 99.8 L465.9 99.8 L466.4 99.9 L466.9 99.9 L467.4 100.0 L467.9 100.0 L468.4 100.1 L468.7 100.1 M473.9 100.6 L474.4 100.6 L474.9 100.7 L475.4 100.7 L475.9 100.7 L476.4 100.8 L476.9 100.8 L477.4 100.9 L477.9 100.9 L478.4 100.9 L478.9 101.0 L479.4 101.0 L479.9 101.1 L480.4 101.1 L480.7 101.1 M485.9 101.5 L486.4 101.6 L486.9 101.6 L487.4 101.6 L487.9 101.7 L488.4 101.7 L488.9 101.8 L489.4 101.8 L489.9 101.8 L490.4 101.9 L490.9 101.9 L491.4 102.0 L491.9 102.0 L492.4 102.0 L492.7 102.1 M498.0 102.5 L498.5 102.6 L499.0 102.6 L499.5 102.7 L500.0 102.7 L500.5 102.8 L501.0 102.8 L501.5 102.9 L502.0 102.9 L502.5 102.9 L503.0 103.0 L503.5 103.0 L504.0 103.1 L504.5 103.1 L504.7 103.1 M510.0 103.5 L510.5 103.5 L511.0 103.6 L511.5 103.6 L512.0 103.6 L512.5 103.6 L513.0 103.6 L513.5 103.7 L514.0 103.7 L514.5 103.7 L515.0 103.7 L515.5 103.7 L516.0 103.7 L516.5 103.8 L516.8 103.8 M522.0 103.9 L522.5 103.9 L523.0 103.9 L523.5 104.0 L524.0 104.0 L524.5 104.0 L525.0 104.0 L525.5 104.0 L526.0 104.0 L526.5 104.0 L527.0 104.0 L527.5 104.0 L528.0 104.0 L528.5 104.0 L528.9 104.0 M534.2 103.5 L534.7 103.5 L535.2 103.4 L535.7 103.3 L536.2 103.2 L536.7 103.1 L537.2 103.1 L537.7 103.0 L538.2 102.9 L538.7 102.8 L539.2 102.7 L539.7 102.7 L540.2 102.6 L540.7 102.5 L540.9 102.4 M546.1 101.2 L546.6 101.0 L547.1 100.9 L547.6 100.7 L548.1 100.6 L548.6 100.4 L549.1 100.3 L549.6 100.1 L550.1 99.9 L550.6 99.8 L551.1 99.6 L551.6 99.4 L552.1 99.3 L552.6 99.1 L552.7 99.1 M557.6 97.2 L558.1 97.0 L558.6 96.8 L559.1 96.5 L559.6 96.3 L560.1 96.1 L560.6 95.9 L561.1 95.6 L561.6 95.4 L562.1 95.1 L562.6 94.9 L563.0 94.7 L563.5 94.5 L563.9 94.3 M568.5 91.7 L569.0 91.4 L569.4 91.1 L569.9 90.8 L570.3 90.5 L570.8 90.2 L571.2 89.9 L571.7 89.6 L572.1 89.2 L572.6 88.9 L573.0 88.6 L573.4 88.3 L573.8 88.0 L574.1 87.7 M577.9 84.0 L578.2 83.6 L578.6 83.2 L578.9 82.8 L579.3 82.4 L579.6 82.0 L580.0 81.6 L580.3 81.2 L580.7 80.8 L581.0 80.4 L581.4 80.0 L581.7 79.6 L582.1 79.2 L582.4 78.9 M586.1 75.1 L586.5 74.7 L586.9 74.3 L587.3 73.9 L587.7 73.5 L588.1 73.1 L588.5 72.7 L588.9 72.3 L589.3 71.9 L589.7 71.5 L590.1 71.1 L590.5 70.7 L590.9 70.3 M594.7 66.5 L595.0 66.2 L595.4 65.8 L595.7 65.4 L596.1 65.1 L596.4 64.7 L596.8 64.4 L597.1 64.0 L597.5 63.6 L597.8 63.3 L598.2 62.9 L598.5 62.6 L598.9 62.2 L599.3 61.8 L599.4 61.6 M603.3 57.9 L603.7 57.5 L604.1 57.1 L604.5 56.8 L604.9 56.4 L605.3 56.0 L605.7 55.7 L606.1 55.3 L606.5 54.9 L606.9 54.6 L607.3 54.2 L607.7 53.8 L608.1 53.5 L608.3 53.3 M612.4 49.8 L612.8 49.5 L613.2 49.2 L613.7 48.9 L614.1 48.5 L614.6 48.2 L615.0 47.9 L615.5 47.7 L615.9 47.4 L616.4 47.1 L616.8 46.8 L617.3 46.5 L617.7 46.2 L618.0 46.0 M622.9 44.0 L623.4 44.0 L623.9 44.0 L624.4 44.0 L624.9 44.1 L625.4 44.1 L625.9 44.2 L626.4 44.2 L626.9 44.3 L627.4 44.4 L627.9 44.5 L628.4 44.5 L628.9 44.6 L629.4 44.7 L629.7 44.8 M634.2 47.5 L634.6 47.9 L635.0 48.2 L635.4 48.6 L635.8 49.0 L636.2 49.4 L636.6 49.7 L637.0 50.1 L637.4 50.4 L637.8 50.7 L638.2 51.0 L638.6 51.3 L639.0 51.6 L639.3 51.9 M643.5 55.1 L643.9 55.4 L644.4 55.7 L644.8 55.9 L645.3 56.2 L645.7 56.5 L646.2 56.8 L646.6 57.0 L647.1 57.3 L647.5 57.6 L648.0 57.9 L648.4 58.1 L648.9 58.4 L649.3 58.6 M654.3 60.1 L654.8 60.1 L655.3 60.2 L655.8 60.3 L656.3 60.4 L656.8 60.4 L657.3 60.5 L657.8 60.5 L658.3 60.6 L658.8 60.6 L659.3 60.6 L659.8 60.6 L660.3 60.6 L660.8 60.6 L661.0 60.6 M666.2 60.2 L666.7 60.1 L667.2 60.1 L667.7 60.0 L668.2 59.9 L668.7 59.8 L669.2 59.7 L669.7 59.6 L670.2 59.5 L670.7 59.4 L671.2 59.2 L671.7 59.1 L672.2 59.0 L672.7 58.8" stroke="#ff0000" stroke-width="2"/>
<path d="M96.6 13.2 L97.1 13.3 L97.6 13.3 L98.1 13.3 L98.6 13.3 L99.1 13.4 L99.6 13.4 L100.1 13.4 L100.6 13.4 L101.1 13.5 L101.6 13.5 L102.1 13.5 L102.6 13.5 L102.7 13.5 M108.0 13.8 L108.5 13.8 L109.0 13.9 L109.5 13.9 L110.0 13.9 L110.5 13.9 L111.0 14.0 L111.5 14.0 L112.0 14.0 L112.5 14.0 L113.0 14.1 L113.5 14.1 L114.0 14.1 L114.5 14.1 L114.8 14.2 M120.1 14.5 L120.6 14.5 L121.1 14.5 L121.6 14.6 L122.1 14.6 L122.6 14.7 L123.1 14.7 L123.6 14.8 L124.1 14.8 L124.6 14.9 L125.1 14.9 L125.6 15.0 L126.1 15.1 L126.6 15.2 L126.8 15.2 M132.0 16.2 L132.5 16.3 L133.0 16.4 L133.5 16.5 L134.0 16.6 L134.5 16.7 L135.0 16.8 L135.5 16.9 L136.0 17.0 L136.5 17.1 L137.0 17.2 L137.5 17.3 L138.0 17.4 L138.5 17.5 L138.7 17.6 M143.8 18.9 L144.3 19.0 L144.8 19.2 L145.3 19.3 L145.8 19.5 L146.3 19.6 L146.8 19.8 L147.3 19.9 L147.8 20.1 L148.3 20.3 L148.8 20.4 L149.3 20.6 L149.8 20.8 L150.3 21.0 M155.1 23.0 L155.6 23.3 L156.1 23.5 L156.6 23.7 L157.1 24.0 L157.5 24.2 L158.0 24.4 L158.4 24.6 L158.9 24.9 L159.3 25.1 L159.8 25.4 L160.2 25.6 L160.7 25.9 L161.1 26.1 L161.2 26.2 M165.6 29.1 L166.0 29.4 L166.4 29.8 L166.8 30.1 L167.2 30.4 L167.6 30.8 L168.0 31.1 L168.4 31.5 L168.7 31.9 L169.1 32.3 L169.4 32.7 L169.8 33.1 L170.1 33.5 L170.4 33.8 M173.6 38.1 L173.9 38.5 L174.2 38.9 L174.5 39.3 L174.8 39.7 L175.1 40.2 L175.4 40.6 L175.7 41.0 L176.0 41.4 L176.3 41.8 L176.6 42.2 L176.9 42.7 L177.2 43.1 L177.5 43.5 M180.4 48.0 L180.7 48.5 L180.9 48.9 L181.2 49.4 L181.4 49.9 L181.7 50.3 L181.9 50.8 L182.2 51.3 L182.4 51.8 L182.7 52.4 L182.9 52.9 L183.2 53.4 L183.4 54.0 M185.5 59.0 L185.7 59.5 L185.9 60.0 L186.1 60.5 L186.3 61.1 L186.5 61.6 L186.7 62.2 L186.9 62.8 L187.1 63.4 L187.3 64.0 L187.5 64.6 L187.7 65.2 M189.3 70.4 L189.4 70.9 L189.6 71.3 L189.7 71.8 L189.9 72.3 L190.0 72.8 L190.2 73.3 L190.3 73.8 L190.5 74.3 L190.6 74.8 L190.8 75.3 L190.9 75.8 L191.1 76.3 L191.2 76.7 M192.7 81.9 L192.8 82.4 L193.0 83.0 L193.1 83.5 L193.3 84.0 L193.4 84.6 L193.6 85.1 L193.7 85.7 L193.9 86.2 L194.0 86.7 L194.2 87.3 L194.3 87.8 L194.5 88.3 M196.0 93.5 L196.1 94.0 L196.3 94.5 L196.4 95.0 L196.6 95.6 L196.7 96.1 L196.9 96.6 L197.0 97.1 L197.2 97.7 L197.3 98.2 L197.5 98.7 L197.6 99.3 L197.8 99.9 M199.1 105.0 L199.2 105.6 L199.4 106.3 L199.5 106.9 L199.7 107.6 L199.8 108.3 L200.0 109.0 L200.1 109.7 L200.3 110.4 L200.4 110.9 L200.5 111.5 M201.4 117.0 L201.5 117.6 L201.6 118.2 L201.7 118.9 L201.8 119.5 L201.9 120.2 L202.0 120.8 L202.1 121.5 L202.2 122.2 L202.3 122.8 L202.4 123.2 M203.2 128.9 L203.3 129.6 L203.4 130.3 L203.5 130.9 L203.6 131.6 L203.7 132.3 L203.8 133.0 L203.9 133.6 L204.0 134.3 L204.1 135.0 L204.2 135.3 M204.9 140.6 L205.0 141.3 L205.1 142.0 L205.2 142.7 L205.3 143.5 L205.4 144.2 L205.5 145.0 L205.6 145.7 L205.7 146.5 L205.8 147.2 M206.5 152.7 L206.6 153.5 L206.7 154.4 L206.8 155.2 L206.9 156.0 L207.0 156.9 L207.1 157.7 L207.2 158.6 L207.3 159.0 M207.9 164.8 L208.0 165.7 L208.1 166.6 L208.2 167.5 L208.3 168.5 L208.4 169.4 L208.5 170.4 L208.6 170.9 M209.2 176.5 L209.3 177.5 L209.4 178.5 L209.4 179.0 L209.5 179.5 L209.5 180.0 L209.6 180.5 L209.6 181.0 L209.7 181.6 L209.7 182.1 L209.8 182.6 M210.3 188.6 L210.3 189.2 L210.4 189.9 L210.4 190.5 L210.5 191.2 L210.5 192.0 L210.6 192.7 L210.6 193.5 L210.7 194.3 M211.0 200.3 L211.1 201.3 L211.1 202.2 L211.2 203.1 L211.2 204.1 L211.3 205.0 L211.3 206.0 L211.4 207.0 M211.7 212.8 L211.7 213.8 L211.8 214.8 L211.8 215.8 L211.9 216.8 L211.9 217.8 L212.0 218.9 M212.2 224.3 L212.3 225.4 L212.3 226.5 L212.4 227.7 L212.4 228.8 L212.5 229.9 M212.8 236.6 L212.8 237.7 L212.9 238.8 L212.9 239.8 L213.0 240.9 L213.0 241.9 L213.1 242.9 M213.4 248.6 L213.4 249.6 L213.5 250.5 L213.5 251.5 L213.6 252.4 L213.6 253.3 L213.7 254.3 M214.0 260.3 L214.1 261.0 L214.1 261.8 L214.2 262.5 L214.2 263.1 L214.3 263.8 L214.3 264.3 L214.4 264.9 L214.4 265.4 L214.5 266.4 L214.6 266.8 M215.5 271.9 L215.6 271.3 L215.7 270.8 L215.9 270.1 L216.0 269.3 L216.1 268.8 L216.2 268.2 L216.3 267.6 L216.4 267.0 L216.5 266.3 L216.6 265.5 M217.1 260.0 L217.2 259.3 L217.2 258.6 L217.3 257.8 L217.3 257.1 L217.4 256.3 L217.4 255.5 L217.5 254.7 L217.5 253.9 M217.9 247.5 L218.0 246.7 L218.0 245.9 L218.1 245.1 L218.1 244.4 L218.2 243.6 L218.2 242.9 L218.3 242.1 L218.3 241.3 M218.7 235.7 L218.7 234.9 L218.8 234.0 L218.8 233.2 L218.9 232.4 L218.9 231.6 L219.0 230.8 L219.0 229.9 M219.4 223.4 L219.5 222.6 L219.5 221.9 L219.6 221.1 L219.6 220.3 L219.7 219.5 L219.7 218.8 L219.8 218.0 M220.2 211.7 L220.3 211.0 L220.3 210.3 L220.4 209.7 L220.4 209.0 L220.5 208.3 L220.5 207.7 L220.6 207.0 L220.6 206.4 L220.7 205.7 M221.1 200.1 L221.2 199.4 L221.2 198.8 L221.3 198.2 L221.3 197.6 L221.4 197.0 L221.4 196.4 L221.5 195.8 L221.5 195.3 L221.6 194.7 L221.6 194.1 L221.7 193.5 M222.2 187.9 L222.2 187.4 L222.3 186.8 L222.3 186.3 L222.4 185.8 L222.4 185.2 L222.5 184.7 L222.5 184.2 L222.6 183.7 L222.6 183.1 L222.7 182.6 L222.7 182.1 L222.8 181.6 M223.3 176.2 L223.4 175.2 L223.5 174.3 L223.6 173.3 L223.7 172.4 L223.8 171.5 L223.9 170.5 L224.0 169.6 M224.6 164.3 L224.7 163.4 L224.8 162.5 L224.9 161.7 L225.0 160.8 L225.1 160.0 L225.2 159.1 L225.3 158.3 L225.4 157.9 M226.1 152.3 L226.2 151.6 L226.3 150.8 L226.4 150.1 L226.5 149.3 L226.6 148.6 L226.7 147.9 L226.8 147.2 L226.9 146.5 L227.0 145.8 M227.8 140.3 L227.9 139.7 L228.0 139.0 L228.1 138.4 L228.2 137.7 L228.3 137.1 L228.4 136.5 L228.5 135.9 L228.6 135.3 L228.7 134.6 L228.8 134.1 M229.8 128.4 L229.9 127.9 L230.0 127.4 L230.1 126.9 L230.2 126.4 L230.3 125.9 L230.4 125.4 L230.5 124.7 L230.7 124.0 L230.8 123.3 L231.0 122.6 L231.1 122.1 M232.3 116.7 L232.4 116.1 L232.6 115.4 L232.7 114.8 L232.9 114.1 L233.0 113.4 L233.2 112.8 L233.3 112.1 L233.5 111.4 L233.6 110.7 L233.7 110.3 M234.8 105.1 L235.0 104.6 L235.1 104.0 L235.3 103.5 L235.4 103.0 L235.6 102.4 L235.7 101.9 L235.9 101.4 L236.0 100.9 L236.2 100.4 L236.3 99.9 L236.5 99.4 L236.6 98.9 L236.7 98.8 M238.4 93.6 L238.6 93.0 L238.8 92.5 L239.0 91.9 L239.2 91.4 L239.4 90.9 L239.6 90.4 L239.8 89.9 L240.0 89.4 L240.2 88.9 L240.4 88.4 L240.6 88.0 L240.8 87.5 L240.9 87.4 M243.1 82.6 L243.4 82.1 L243.6 81.7 L243.9 81.2 L244.1 80.7 L244.4 80.3 L244.6 79.9 L244.9 79.3 L245.2 78.8 L245.5 78.3 L245.8 77.9 L246.1 77.4 L246.4 76.9 L246.5 76.8 M249.7 72.6 L250.1 72.2 L250.4 71.8 L250.8 71.4 L251.2 71.1 L251.6 70.7 L252.1 70.4 L252.5 70.2 L253.0 69.9 L253.4 69.7 L253.9 69.4 L254.4 69.2 L254.9 69.1 L255.4 69.0 M259.9 71.6 L260.3 71.9 L260.7 72.2 L261.1 72.6 L261.5 73.0 L261.8 73.4 L262.2 73.8 L262.5 74.2 L262.9 74.5 L263.2 74.9 L263.6 75.3 L263.9 75.7 L264.3 76.1 L264.5 76.4 M267.6 80.8 L267.9 81.2 L268.2 81.6 L268.6 82.1 L268.9 82.5 L269.3 82.9 L269.7 83.2 L270.1 83.6 L270.5 83.9 L271.0 84.1 L271.4 84.4 L271.9 84.7 L272.3 84.9 L272.6 85.1 M277.7 86.3 L278.2 86.2 L278.7 86.1 L279.2 86.0 L279.7 85.8 L280.2 85.6 L280.7 85.4 L281.2 85.2 L281.7 85.0 L282.2 84.8 L282.7 84.6 L283.2 84.4 L283.7 84.2 L284.2 84.0 M289.0 81.9 L289.5 81.7 L290.0 81.5 L290.5 81.3 L291.0 81.1 L291.5 80.9 L292.0 80.7 L292.5 80.5 L293.0 80.3 L293.5 80.2 L294.0 80.0 L294.5 79.8 L295.0 79.6 L295.4 79.5 M300.6 78.1 L301.1 78.0 L301.6 77.9 L302.1 77.8 L302.6 77.7 L303.1 77.6 L303.6 77.5 L304.1 77.4 L304.6 77.3 L305.1 77.3 L305.6 77.2 L306.1 77.1 L306.6 77.0 L307.1 77.0 L307.3 76.9 M312.7 76.3 L313.2 76.3 L313.7 76.3 L314.2 76.2 L314.7 76.2 L315.2 76.1 L315.7 76.1 L316.2 76.1 L316.7 76.0 L317.2 76.0 L317.7 75.9 L318.2 75.9 L318.7 75.9 L319.2 75.8 L319.5 75.8 M324.8 75.6 L325.3 75.6 L325.8 75.6 L326.3 75.6 L326.8 75.6 L327.3 75.6 L327.8 75.6 L328.3 75.6 L328.8 75.6 L329.3 75.7 L329.8 75.7 L330.3 75.7 L330.8 75.7 L331.3 75.8 L331.7 75.8 M337.0 76.1 L337.5 76.2 L338.0 76.2 L338.5 76.3 L339.0 76.3 L339.5 76.4 L340.0 76.4 L340.5 76.5 L341.0 76.5 L341.5 76.6 L342.0 76.6 L342.5 76.7 L343.0 76.8 L343.5 76.8 L343.8 76.9 M349.1 77.9 L349.6 78.0 L350.1 78.1 L350.6 78.2 L351.1 78.3 L351.6 78.5 L352.1 78.6 L352.6 78.7 L353.1 78.8 L353.6 78.9 L354.1 79.0 L354.6 79.1 L355.1 79.3 L355.6 79.4 L355.8 79.4 M360.9 80.9 L361.4 81.0 L361.9 81.2 L362.4 81.3 L362.9 81.5 L363.4 81.6 L363.9 81.8 L364.4 81.9 L364.9 82.1 L365.4 82.2 L365.9 82.4 L366.4 82.5 L366.9 82.7 L367.4 82.8 L367.5 82.8 M372.6 84.4 L373.1 84.5 L373.6 84.7 L374.1 84.8 L374.6 85.0 L375.1 85.1 L375.6 85.3 L376.1 85.4 L376.6 85.6 L377.1 85.8 L377.6 85.9 L378.1 86.1 L378.6 86.2 L379.1 86.4 L379.1 86.4 M384.2 88.1 L384.7 88.2 L385.2 88.4 L385.7 88.6 L386.2 88.8 L386.7 88.9 L387.2 89.1 L387.7 89.3 L388.2 89.5 L388.7 89.7 L389.2 89.8 L389.7 90.0 L390.2 90.2 L390.6 90.4 M395.5 92.2 L396.0 92.4 L396.5 92.6 L397.0 92.8 L397.5 93.0 L398.0 93.2 L398.5 93.4 L399.0 93.6 L399.5 93.8 L400.0 94.0 L400.5 94.2 L401.0 94.4 L401.5 94.6 L401.8 94.7 M406.7 96.7 L407.2 96.9 L407.7 97.1 L408.2 97.3 L408.7 97.6 L409.2 97.8 L409.7 98.0 L410.2 98.2 L410.7 98.4 L411.2 98.7 L411.7 98.9 L412.2 99.1 L412.7 99.3 L412.9 99.4 M417.6 101.8 L418.1 102.0 L418.5 102.3 L419.0 102.5 L419.4 102.8 L419.9 103.0 L420.3 103.2 L420.8 103.4 L421.2 103.7 L421.7 103.9 L422.1 104.1 L422.6 104.3 L423.1 104.6 L423.6 104.8 L423.7 104.9 M428.4 107.0 L428.9 107.2 L429.4 107.5 L429.9 107.7 L430.4 107.9 L430.9 108.1 L431.4 108.3 L431.9 108.5 L432.4 108.7 L432.9 108.9 L433.4 109.1 L433.9 109.3 L434.4 109.5 L434.7 109.6 M439.8 111.1 L440.3 111.2 L440.8 111.4 L441.3 111.5 L441.8 111.6 L442.3 111.7 L442.8 111.9 L443.3 112.0 L443.8 112.1 L444.3 112.2 L444.8 112.3 L445.3 112.4 L445.8 112.5 L446.3 112.6 L446.3 112.7 M451.5 113.8 L452.0 113.9 L452.5 114.0 L453.0 114.1 L453.5 114.2 L454.0 114.3 L454.5 114.4 L455.0 114.5 L455.5 114.6 L456.0 114.7 L456.5 114.7 L457.0 114.8 L457.5 114.9 L458.0 114.9 L458.2 114.9 M463.4 114.9 L463.9 114.9 L464.4 114.9 L464.9 114.9 L465.4 114.8 L465.9 114.8 L466.4 114.8 L466.9 114.8 L467.4 114.7 L467.9 114.7 L468.4 114.7 L468.9 114.6 L469.4 114.6 L469.9 114.6 L470.2 114.5 M475.4 113.9 L475.9 113.8 L476.4 113.7 L476.9 113.6 L477.4 113.5 L477.9 113.4 L478.4 113.3 L478.9 113.2 L479.4 113.0 L479.9 112.9 L480.4 112.8 L480.9 112.7 L481.4 112.6 L481.9 112.4 L482.0 112.4 M487.2 111.4 L487.7 111.3 L488.2 111.2 L488.7 111.1 L489.2 111.0 L489.7 110.9 L490.2 110.8 L490.7 110.7 L491.2 110.6 L491.7 110.5 L492.2 110.5 L492.7 110.4 L493.2 110.3 L493.7 110.2 L493.8 110.1 M499.0 109.0 L499.5 108.9 L500.0 108.8 L500.5 108.7 L501.0 108.5 L501.5 108.4 L502.0 108.3 L502.5 108.1 L503.0 108.0 L503.5 107.9 L504.0 107.7 L504.5 107.6 L505.0 107.4 L505.5 107.3 M510.6 105.6 L511.1 105.4 L511.6 105.3 L512.1 105.1 L512.6 104.9 L513.1 104.8 L513.6 104.6 L514.1 104.4 L514.6 104.3 L515.1 104.1 L515.6 103.9 L516.1 103.8 L516.6 103.6 L517.0 103.5 M522.1 101.8 L522.6 101.6 L523.1 101.5 L523.6 101.3 L524.1 101.1 L524.6 100.9 L525.1 100.7 L525.6 100.6 L526.1 100.4 L526.6 100.2 L527.1 100.0 L527.6 99.8 L528.1 99.6 L528.5 99.4 M533.2 96.9 L533.6 96.7 L534.1 96.4 L534.5 96.2 L535.0 96.0 L535.5 95.8 L536.0 95.6 L536.5 95.4 L537.0 95.2 L537.5 95.0 L538.0 94.9 L538.5 94.7 L539.0 94.5 L539.5 94.4 M544.6 92.9 L545.1 92.8 L545.6 92.6 L546.1 92.5 L546.6 92.4 L547.1 92.3 L547.6 92.1 L548.1 92.0 L548.6 91.9 L549.1 91.7 L549.6 91.6 L550.1 91.5 L550.6 91.4 L551.1 91.2 L551.2 91.2 M556.4 89.9 L556.9 89.7 L557.4 89.6 L557.9 89.5 L558.4 89.4 L558.9 89.2 L559.4 89.1 L559.9 89.0 L560.4 88.9 L560.9 88.7 L561.4 88.6 L561.9 88.5 L562.4 88.4 L562.9 88.3 L563.0 88.2 M568.2 87.0 L568.7 86.8 L569.2 86.7 L569.7 86.6 L570.2 86.5 L570.7 86.3 L571.2 86.2 L571.7 86.1 L572.2 86.0 L572.7 85.9 L573.2 85.7 L573.7 85.6 L574.2 85.5 L574.7 85.4 L574.8 85.3 M580.0 84.1 L580.5 83.9 L581.0 83.8 L581.5 83.7 L582.0 83.5 L582.5 83.4 L583.0 83.3 L583.5 83.1 L584.0 83.0 L584.5 82.9 L585.0 82.7 L585.5 82.6 L586.0 82.4 L586.5 82.3 L586.6 82.3 M591.6 80.7 L592.1 80.5 L592.6 80.4 L593.1 80.2 L593.6 80.1 L594.1 79.9 L594.6 79.7 L595.1 79.6 L595.6 79.5 L596.1 79.3 L596.6 79.2 L597.1 79.0 L597.6 78.9 L598.1 78.8 L598.2 78.7 M603.3 77.4 L603.8 77.3 L604.3 77.1 L604.8 77.0 L605.3 76.9 L605.8 76.8 L606.3 76.6 L606.8 76.5 L607.3 76.4 L607.8 76.3 L608.3 76.1 L608.8 76.0 L609.3 75.9 L609.8 75.8 L610.0 75.7 M615.2 74.5 L615.7 74.4 L616.2 74.3 L616.7 74.2 L617.2 74.1 L617.7 74.0 L618.2 73.9 L618.7 73.8 L619.2 73.7 L619.7 73.6 L620.2 73.5 L620.7 73.4 L621.2 73.3 L621.7 73.2 L621.9 73.2 M627.1 72.2 L627.6 72.1 L628.1 72.0 L628.6 71.9 L629.1 71.8 L629.6 71.7 L630.1 71.6 L630.6 71.5 L631.1 71.4 L631.6 71.3 L632.1 71.2 L632.6 71.1 L633.1 71.0 L633.6 70.9 L633.8 70.8 M638.9 69.6 L639.4 69.5 L639.9 69.4 L640.4 69.2 L640.9 69.1 L641.4 69.0 L641.9 68.9 L642.4 68.7 L642.9 68.6 L643.4 68.5 L643.9 68.4 L644.4 68.2 L644.9 68.1 L645.4 68.0 L645.5 68.0 M650.5 66.6 L651.0 66.5 L651.5 66.4 L652.0 66.3 L652.5 66.1 L653.0 66.0 L653.5 65.9 L654.0 65.8 L654.5 65.6 L655.0 65.5 L655.5 65.4 L656.0 65.3 L656.5 65.1 L657.0 65.0 L657.1 65.0 M662.2 63.7 L662.7 63.6 L663.2 63.4 L663.7 63.3 L664.2 63.2 L664.7 63.1 L665.2 62.9 L665.7 62.8 L666.2 62.7 L666.7 62.6 L667.2 62.4 L667.7 62.3 L668.2 62.2 L668.7 62.0 L668.7 62.0" stroke="#2e75b6" stroke-width="2"/>
<path d="M96.4 13.4 L96.9 13.4 L97.4 13.5 L97.9 13.5 L98.4 13.5 L98.9 13.5 L99.4 13.6 L99.9 13.6 L100.4 13.6 L100.9 13.6 L101.4 13.7 L101.9 13.7 L102.4 13.7 L102.5 13.7 M107.8 14.0 L108.3 14.0 L108.8 14.0 L109.3 14.1 L109.8 14.1 L110.3 14.1 L110.8 14.1 L111.3 14.2 L111.8 14.2 L112.3 14.2 L112.8 14.3 L113.3 14.3 L113.8 14.3 L114.3 14.3 L114.6 14.3 M119.8 14.6 L120.3 14.7 L120.8 14.7 L121.3 14.7 L121.8 14.8 L122.3 14.8 L122.8 14.9 L123.3 14.9 L123.8 15.0 L124.3 15.0 L124.8 15.1 L125.3 15.2 L125.8 15.3 L126.3 15.3 L126.6 15.4 M131.7 16.3 L132.2 16.4 L132.7 16.5 L133.2 16.6 L133.7 16.7 L134.2 16.8 L134.7 16.9 L135.2 17.0 L135.7 17.1 L136.2 17.2 L136.7 17.3 L137.2 17.5 L137.7 17.6 L138.2 17.7 L138.4 17.7 M143.5 19.0 L144.0 19.1 L144.5 19.3 L145.0 19.4 L145.5 19.6 L146.0 19.7 L146.5 19.9 L147.0 20.1 L147.5 20.2 L148.0 20.4 L148.5 20.6 L149.0 20.7 L149.5 20.9 L149.9 21.1 M154.8 23.1 L155.3 23.4 L155.8 23.6 L156.3 23.8 L156.7 24.1 L157.2 24.3 L157.6 24.5 L158.1 24.7 L158.5 25.0 L159.0 25.2 L159.4 25.5 L159.9 25.7 L160.3 26.0 L160.8 26.2 L160.8 26.2 M165.2 29.1 L165.6 29.5 L166.0 29.8 L166.4 30.1 L166.8 30.4 L167.2 30.8 L167.6 31.1 L168.0 31.5 L168.4 31.9 L168.7 32.3 L169.1 32.7 L169.4 33.1 L169.8 33.5 L170.0 33.8 M173.2 38.0 L173.5 38.5 L173.8 38.9 L174.1 39.3 L174.4 39.7 L174.7 40.1 L175.0 40.5 L175.3 41.0 L175.6 41.4 L175.9 41.8 L176.2 42.2 L176.5 42.6 L176.8 43.0 L177.1 43.5 L177.2 43.5 M180.1 48.0 L180.4 48.5 L180.7 49.0 L180.9 49.4 L181.2 49.8 L181.4 50.3 L181.7 50.7 L181.9 51.2 L182.2 51.7 L182.4 52.2 L182.7 52.7 L182.9 53.2 L183.2 53.7 L183.2 53.8 M185.4 58.7 L185.6 59.2 L185.8 59.7 L186.0 60.2 L186.2 60.7 L186.4 61.2 L186.6 61.7 L186.8 62.2 L187.0 62.8 L187.2 63.3 L187.4 63.9 L187.6 64.4 L187.8 65.0 M189.5 70.0 L189.7 70.6 L189.9 71.2 L190.1 71.8 L190.3 72.4 L190.5 73.0 L190.7 73.6 L190.9 74.2 L191.1 74.8 L191.3 75.4 L191.5 76.0 L191.6 76.3 M193.3 81.5 L193.4 82.0 L193.6 82.5 L193.7 83.0 L193.9 83.5 L194.0 84.0 L194.2 84.5 L194.3 85.0 L194.5 85.5 L194.6 86.0 L194.8 86.5 L194.9 87.0 L195.1 87.5 L195.2 87.9 M196.6 93.0 L196.8 93.5 L196.9 94.0 L197.1 94.6 L197.2 95.1 L197.4 95.7 L197.5 96.2 L197.7 96.8 L197.8 97.3 L198.0 97.9 L198.1 98.5 L198.3 99.0 L198.4 99.4 M199.7 104.7 L199.9 105.3 L200.0 105.9 L200.2 106.5 L200.3 107.1 L200.5 107.8 L200.6 108.4 L200.8 109.0 L200.9 109.7 L201.1 110.3 L201.2 110.9 M202.4 116.3 L202.6 117.0 L202.7 117.7 L202.9 118.4 L203.0 119.1 L203.2 119.8 L203.3 120.5 L203.5 121.2 L203.6 122.0 L203.7 122.5 L203.8 122.7 M204.8 128.1 L204.9 128.6 L205.0 129.1 L205.1 129.7 L205.2 130.2 L205.3 130.8 L205.4 131.3 L205.5 131.9 L205.6 132.4 L205.7 133.0 L205.8 133.5 L205.9 134.1 L206.0 134.4 M206.9 140.0 L207.0 140.7 L207.1 141.4 L207.2 142.1 L207.3 142.7 L207.4 143.4 L207.5 144.1 L207.6 144.8 L207.7 145.5 L207.8 146.2 M208.6 151.9 L208.7 152.6 L208.8 153.3 L208.9 153.9 L209.0 154.6 L209.1 155.3 L209.2 156.0 L209.3 156.6 L209.4 157.3 L209.5 157.9 L209.5 158.3 M210.4 163.7 L210.5 164.3 L210.6 164.9 L210.7 165.5 L210.8 166.0 L210.9 166.6 L211.0 167.2 L211.1 167.7 L211.2 168.3 L211.3 168.9 L211.4 169.4 L211.5 170.0 M212.5 175.5 L212.6 176.0 L212.7 176.5 L212.8 177.0 L212.9 177.6 L213.0 178.1 L213.1 178.6 L213.2 179.2 L213.3 179.7 L213.4 180.3 L213.5 180.8 L213.6 181.4 L213.7 181.9 M214.9 187.2 L215.0 187.8 L215.2 188.3 L215.3 188.8 L215.5 189.3 L215.7 189.9 L215.9 190.4 L216.2 190.9 L216.6 190.7 L216.8 190.1 L217.0 189.5 L217.2 189.0 L217.3 188.6 M218.6 183.3 L218.7 182.8 L218.8 182.3 L218.9 181.8 L219.0 181.2 L219.1 180.7 L219.2 180.2 L219.3 179.7 L219.4 179.1 L219.5 178.6 L219.6 178.1 L219.7 177.6 L219.8 177.1 L219.8 176.9 M221.0 171.5 L221.1 170.8 L221.3 170.1 L221.4 169.4 L221.6 168.7 L221.7 168.1 L221.9 167.4 L222.0 166.7 L222.2 166.0 L222.3 165.3 L222.4 165.1 M223.6 159.7 L223.7 159.0 L223.9 158.3 L224.0 157.7 L224.2 157.0 L224.3 156.4 L224.5 155.7 L224.6 155.0 L224.8 154.4 L224.9 153.7 L225.0 153.3 M226.2 148.1 L226.4 147.4 L226.5 146.8 L226.7 146.1 L226.8 145.4 L227.0 144.7 L227.1 144.1 L227.3 143.4 L227.4 142.7 L227.6 142.0 L227.7 141.5 M228.7 136.4 L228.8 135.9 L228.9 135.3 L229.0 134.8 L229.1 134.2 L229.2 133.7 L229.3 133.1 L229.4 132.6 L229.5 132.0 L229.6 131.5 L229.7 130.9 L229.8 130.3 L229.9 129.8 M230.9 124.4 L231.0 123.8 L231.1 123.3 L231.2 122.7 L231.3 122.2 L231.4 121.7 L231.5 121.1 L231.6 120.6 L231.7 120.1 L231.8 119.6 L231.9 119.0 L232.0 118.5 L232.1 118.0 M233.3 112.8 L233.4 112.3 L233.6 111.8 L233.7 111.3 L233.9 110.8 L234.1 110.2 L234.3 109.5 L234.5 108.9 L234.7 108.4 L234.9 107.8 L235.1 107.3 L235.3 106.7 L235.4 106.5 M237.4 101.6 L237.7 101.0 L237.9 100.5 L238.2 99.9 L238.4 99.4 L238.7 98.8 L238.9 98.2 L239.1 97.8 L239.3 97.3 L239.5 96.9 L239.7 96.4 L239.9 95.9 L240.1 95.4 M242.1 90.4 L242.3 89.9 L242.5 89.4 L242.7 89.0 L243.0 88.4 L243.2 87.9 L243.5 87.3 L243.7 86.8 L244.0 86.4 L244.2 85.9 L244.5 85.4 L244.8 85.0 L245.1 84.6 L245.2 84.5 M248.9 80.9 L249.4 80.6 L249.8 80.3 L250.3 80.1 L250.8 79.9 L251.3 79.8 L251.8 79.8 L252.3 79.8 L252.8 79.9 L253.3 80.0 L253.8 80.1 L254.3 80.2 L254.8 80.4 L255.3 80.6 L255.3 80.6 M259.4 83.7 L259.7 84.2 L260.0 84.6 L260.3 85.0 L260.6 85.4 L260.9 85.8 L261.2 86.3 L261.6 86.8 L261.9 87.2 L262.2 87.6 L262.5 88.0 L262.8 88.5 L263.1 89.0 L263.3 89.3 M266.2 93.7 L266.5 94.2 L266.9 94.6 L267.2 95.0 L267.6 95.4 L267.9 95.8 L268.3 96.1 L268.6 96.5 L269.0 96.9 L269.4 97.3 L269.8 97.7 L270.2 98.0 L270.6 98.4 L270.8 98.6 M275.1 101.6 L275.6 101.8 L276.0 102.1 L276.5 102.3 L276.9 102.5 L277.4 102.7 L277.9 102.9 L278.4 103.1 L278.9 103.3 L279.4 103.4 L279.9 103.5 L280.4 103.5 L280.9 103.5 L281.4 103.5 L281.5 103.5 M286.8 102.9 L287.3 102.9 L287.8 102.8 L288.3 102.7 L288.8 102.6 L289.3 102.5 L289.8 102.4 L290.3 102.3 L290.8 102.2 L291.3 102.1 L291.8 102.0 L292.3 101.9 L292.8 101.7 L293.3 101.5 L293.5 101.5 M298.4 99.4 L298.9 99.2 L299.4 99.0 L299.9 98.8 L300.4 98.7 L300.9 98.5 L301.4 98.3 L301.9 98.2 L302.4 98.0 L302.9 97.9 L303.4 97.7 L303.9 97.6 L304.4 97.4 L304.9 97.3 M310.1 95.9 L310.6 95.8 L311.1 95.6 L311.6 95.5 L312.1 95.4 L312.6 95.2 L313.1 95.1 L313.6 95.0 L314.1 94.9 L314.6 94.7 L315.1 94.6 L315.6 94.5 L316.1 94.4 L316.6 94.3 L316.7 94.2 M321.9 93.0 L322.4 92.9 L322.9 92.8 L323.4 92.7 L323.9 92.6 L324.4 92.5 L324.9 92.4 L325.4 92.3 L325.9 92.2 L326.4 92.1 L326.9 92.0 L327.4 91.9 L327.9 91.8 L328.4 91.7 L328.6 91.6 M333.8 90.7 L334.3 90.6 L334.8 90.5 L335.3 90.4 L335.8 90.3 L336.3 90.2 L336.8 90.2 L337.3 90.1 L337.8 90.0 L338.3 89.9 L338.8 89.8 L339.3 89.7 L339.8 89.7 L340.3 89.6 L340.6 89.5 M345.9 88.8 L346.4 88.8 L346.9 88.7 L347.4 88.7 L347.9 88.6 L348.4 88.6 L348.9 88.5 L349.4 88.5 L349.9 88.4 L350.4 88.4 L350.9 88.3 L351.4 88.3 L351.9 88.3 L352.4 88.2 L352.7 88.2 M358.0 87.8 L358.5 87.8 L359.0 87.7 L359.5 87.7 L360.0 87.7 L360.5 87.7 L361.0 87.7 L361.5 87.6 L362.0 87.6 L362.5 87.6 L363.0 87.6 L363.5 87.6 L364.0 87.6 L364.5 87.6 L364.9 87.6 M370.2 87.7 L370.7 87.7 L371.2 87.7 L371.7 87.7 L372.2 87.7 L372.7 87.7 L373.2 87.7 L373.7 87.8 L374.2 87.8 L374.7 87.8 L375.2 87.8 L375.7 87.8 L376.2 87.8 L376.7 87.9 L377.0 87.9 M382.3 88.2 L382.8 88.2 L383.3 88.3 L383.8 88.4 L384.3 88.5 L384.8 88.5 L385.3 88.6 L385.8 88.7 L386.3 88.8 L386.8 88.9 L387.3 89.0 L387.8 89.1 L388.3 89.2 L388.8 89.3 L389.1 89.4 M394.3 90.5 L394.8 90.7 L395.3 90.8 L395.8 90.9 L396.3 91.1 L396.8 91.2 L397.3 91.4 L397.8 91.5 L398.3 91.7 L398.8 91.8 L399.3 92.0 L399.8 92.1 L400.3 92.3 L400.8 92.5 L400.8 92.5 M405.9 94.3 L406.4 94.5 L406.9 94.7 L407.4 94.9 L407.9 95.1 L408.4 95.3 L408.9 95.6 L409.4 95.8 L409.9 96.0 L410.4 96.2 L410.9 96.5 L411.4 96.7 L411.9 96.9 L412.0 97.0 M416.7 99.4 L417.2 99.6 L417.6 99.9 L418.1 100.1 L418.5 100.3 L419.0 100.6 L419.4 100.9 L419.9 101.1 L420.3 101.4 L420.8 101.6 L421.2 101.9 L421.7 102.2 L422.1 102.4 L422.5 102.7 M426.9 105.6 L427.3 106.0 L427.7 106.3 L428.1 106.6 L428.5 106.9 L428.9 107.2 L429.3 107.6 L429.7 107.9 L430.1 108.3 L430.5 108.6 L430.9 109.0 L431.3 109.4 L431.7 109.8 L431.9 110.0 M435.5 113.9 L435.8 114.3 L436.2 114.7 L436.5 115.1 L436.9 115.6 L437.2 116.0 L437.6 116.5 L437.9 116.9 L438.2 117.3 L438.5 117.8 L438.8 118.2 L439.1 118.6 L439.4 119.1 L439.5 119.2 M442.2 123.8 L442.4 124.3 L442.7 124.8 L442.9 125.3 L443.2 125.8 L443.4 126.3 L443.7 126.9 L443.9 127.4 L444.2 128.0 L444.4 128.5 L444.6 128.9 L444.8 129.4 L445.0 129.9 M446.9 134.8 L447.1 135.3 L447.3 135.9 L447.5 136.4 L447.7 136.9 L447.9 137.5 L448.1 138.1 L448.3 138.7 L448.5 139.3 L448.7 139.9 L448.9 140.5 L449.1 141.0 M450.7 146.2 L450.9 146.8 L451.1 147.4 L451.3 148.0 L451.5 148.6 L451.7 149.1 L451.9 149.7 L452.1 150.4 L452.3 151.0 L452.5 151.5 L452.7 152.1 L452.9 152.5 M455.9 152.4 L456.1 151.8 L456.2 151.3 L456.4 150.7 L456.5 150.1 L456.7 149.4 L456.8 148.7 L457.0 148.0 L457.1 147.3 L457.2 146.8 L457.3 146.3 L457.4 146.0 M458.2 140.4 L458.3 139.6 L458.4 138.8 L458.5 138.0 L458.6 137.3 L458.7 136.4 L458.8 135.6 L458.9 134.7 L459.0 134.3 M459.5 128.5 L459.6 127.6 L459.7 126.8 L459.8 126.2 L459.9 125.6 L460.0 125.1 L460.1 124.6 L460.3 123.9 L460.4 123.2 L460.6 122.6 L460.7 122.2 M463.6 118.0 L464.1 118.1 L464.6 118.4 L465.0 118.8 L465.3 119.2 L465.7 119.6 L466.0 120.0 L466.4 120.4 L466.7 120.9 L467.1 121.2 L467.5 121.6 L467.9 121.9 L468.4 122.2 L468.6 122.4 M472.9 125.2 L473.4 125.5 L473.9 125.7 L474.4 125.9 L474.9 126.1 L475.4 126.3 L475.9 126.4 L476.4 126.6 L476.9 126.7 L477.4 126.9 L477.9 127.0 L478.4 127.2 L478.9 127.3 L479.3 127.4 M484.4 128.3 L484.9 128.4 L485.4 128.4 L485.9 128.4 L486.4 128.4 L486.9 128.4 L487.4 128.3 L487.9 128.3 L488.4 128.2 L488.9 128.1 L489.4 128.0 L489.9 127.9 L490.4 127.8 L490.9 127.7 L491.0 127.7 M496.1 126.3 L496.6 126.1 L497.1 126.0 L497.6 125.8 L498.1 125.7 L498.6 125.5 L499.1 125.3 L499.6 125.2 L500.1 125.0 L500.6 124.8 L501.1 124.6 L501.6 124.4 L502.1 124.2 L502.4 124.1 M507.3 122.1 L507.8 121.9 L508.3 121.7 L508.8 121.5 L509.3 121.3 L509.8 121.1 L510.3 120.9 L510.8 120.7 L511.3 120.5 L511.8 120.4 L512.3 120.2 L512.8 120.0 L513.3 119.8 L513.5 119.7 M518.4 117.7 L518.9 117.5 L519.4 117.3 L519.9 117.1 L520.4 116.8 L520.9 116.6 L521.4 116.4 L521.9 116.2 L522.4 115.9 L522.9 115.7 L523.4 115.5 L523.9 115.2 L524.4 115.0 L524.5 114.9 M529.3 112.5 L529.7 112.3 L530.2 112.0 L530.6 111.8 L531.1 111.5 L531.5 111.3 L532.0 111.0 L532.4 110.8 L532.9 110.5 L533.3 110.2 L533.8 110.0 L534.2 109.7 L534.7 109.4 L535.1 109.1 L535.2 109.1 M539.6 106.1 L540.1 105.8 L540.5 105.5 L541.0 105.2 L541.4 104.9 L541.9 104.6 L542.3 104.3 L542.8 104.0 L543.2 103.7 L543.7 103.4 L544.1 103.1 L544.6 102.8 L545.0 102.5 L545.3 102.4 M549.8 99.5 L550.3 99.3 L550.7 99.0 L551.2 98.7 L551.6 98.4 L552.1 98.1 L552.5 97.8 L553.0 97.5 L553.4 97.2 L553.9 96.9 L554.3 96.6 L554.8 96.3 L555.2 96.0 L555.5 95.8 M559.8 92.7 L560.2 92.4 L560.6 92.1 L561.0 91.8 L561.4 91.5 L561.8 91.2 L562.2 90.9 L562.6 90.6 L563.0 90.3 L563.4 90.0 L563.8 89.7 L564.2 89.4 L564.6 89.1 L565.0 88.8 L565.3 88.6 M569.5 85.4 L569.9 85.1 L570.3 84.8 L570.7 84.4 L571.1 84.1 L571.5 83.8 L571.9 83.5 L572.3 83.2 L572.7 82.9 L573.1 82.5 L573.5 82.2 L573.9 81.9 L574.3 81.5 L574.7 81.2 L574.8 81.1 M578.6 77.4 L579.0 77.0 L579.4 76.6 L579.8 76.2 L580.1 75.9 L580.5 75.5 L580.8 75.2 L581.2 74.8 L581.6 74.4 L582.0 74.0 L582.4 73.6 L582.8 73.2 L583.2 72.8 L583.4 72.6 M587.3 69.0 L587.7 68.6 L588.1 68.3 L588.5 67.9 L588.9 67.6 L589.3 67.2 L589.7 66.9 L590.1 66.6 L590.5 66.2 L590.9 65.9 L591.3 65.6 L591.7 65.3 L592.1 64.9 L592.5 64.6 M596.7 61.2 L597.1 60.9 L597.5 60.5 L597.9 60.2 L598.3 59.8 L598.7 59.5 L599.1 59.2 L599.5 58.8 L599.9 58.5 L600.3 58.1 L600.7 57.8 L601.1 57.5 L601.5 57.1 L601.8 56.8 M605.9 53.4 L606.3 53.1 L606.7 52.8 L607.1 52.5 L607.5 52.2 L607.9 51.9 L608.3 51.6 L608.7 51.3 L609.1 50.9 L609.5 50.6 L609.9 50.3 L610.3 50.0 L610.7 49.7 L611.1 49.4 L611.3 49.2 M615.7 46.2 L616.2 46.0 L616.6 45.8 L617.1 45.5 L617.6 45.3 L618.1 45.1 L618.6 44.9 L619.1 44.7 L619.6 44.5 L620.1 44.3 L620.6 44.1 L621.1 43.9 L621.6 43.7 L622.0 43.6 M627.3 43.4 L627.8 43.4 L628.3 43.5 L628.8 43.6 L629.3 43.7 L629.8 43.8 L630.3 43.9 L630.8 44.0 L631.3 44.1 L631.8 44.2 L632.3 44.4 L632.7 44.6 L633.2 44.9 L633.6 45.2 L633.8 45.3 M638.0 48.6 L638.4 48.9 L638.8 49.3 L639.2 49.6 L639.6 50.0 L640.0 50.4 L640.3 50.8 L640.7 51.2 L641.0 51.5 L641.4 51.9 L641.7 52.3 L642.1 52.7 L642.4 53.1 L642.7 53.4 M646.5 57.0 L646.9 57.3 L647.3 57.7 L647.7 58.0 L648.1 58.4 L648.5 58.7 L648.9 59.0 L649.3 59.3 L649.7 59.6 L650.1 59.9 L650.6 60.3 L651.0 60.5 L651.5 60.8 L651.9 61.1 M656.6 63.3 L657.1 63.5 L657.6 63.7 L658.1 63.8 L658.6 64.0 L659.1 64.0 L659.6 64.1 L660.1 64.1 L660.6 64.1 L661.1 64.1 L661.6 64.1 L662.1 64.1 L662.6 64.1 L663.1 64.1 L663.2 64.1 M668.5 64.0 L669.0 64.0 L669.5 64.0 L670.0 64.0 L670.5 64.0 L671.0 64.0 L671.5 64.0 L672.0 63.9 L672.5 63.9 L672.7 63.9" stroke="#ffff00" stroke-width="2"/>
<path d="M96.3 13.5 L96.8 13.5 L97.3 13.6 L97.8 13.6 L98.3 13.6 L98.8 13.6 L99.3 13.7 L99.8 13.7 L100.3 13.7 L100.8 13.7 L101.3 13.8 L101.8 13.8 L102.3 13.8 L102.4 13.8 M107.7 14.1 L108.2 14.1 L108.7 14.1 L109.2 14.2 L109.7 14.2 L110.2 14.2 L110.7 14.2 L111.2 14.3 L111.7 14.3 L112.2 14.3 L112.7 14.3 L113.2 14.4 L113.7 14.4 L114.2 14.4 L114.5 14.4 M119.7 14.7 L120.2 14.8 L120.7 14.8 L121.2 14.8 L121.7 14.9 L122.2 14.9 L122.7 15.0 L123.2 15.0 L123.7 15.1 L124.2 15.1 L124.7 15.2 L125.2 15.3 L125.7 15.3 L126.2 15.4 L126.5 15.5 M131.7 16.4 L132.2 16.5 L132.7 16.6 L133.2 16.7 L133.7 16.8 L134.2 16.9 L134.7 17.0 L135.2 17.1 L135.7 17.2 L136.2 17.3 L136.7 17.4 L137.2 17.6 L137.7 17.7 L138.2 17.8 L138.3 17.8 M143.4 19.1 L143.9 19.3 L144.4 19.4 L144.9 19.5 L145.4 19.7 L145.9 19.8 L146.4 20.0 L146.9 20.2 L147.4 20.3 L147.9 20.5 L148.4 20.7 L148.9 20.9 L149.4 21.0 L149.9 21.2 M154.7 23.2 L155.2 23.5 L155.7 23.7 L156.2 24.0 L156.7 24.2 L157.1 24.4 L157.6 24.6 L158.0 24.9 L158.5 25.1 L158.9 25.3 L159.4 25.6 L159.8 25.8 L160.3 26.1 L160.7 26.3 M165.1 29.3 L165.5 29.6 L165.9 29.9 L166.3 30.2 L166.7 30.6 L167.1 30.9 L167.5 31.3 L167.9 31.7 L168.3 32.1 L168.7 32.4 L169.0 32.8 L169.4 33.2 L169.7 33.6 L170.0 33.9 M173.2 38.2 L173.5 38.6 L173.8 39.0 L174.1 39.5 L174.4 39.9 L174.7 40.3 L175.0 40.7 L175.3 41.1 L175.6 41.5 L175.9 41.9 L176.2 42.4 L176.5 42.8 L176.8 43.2 L177.1 43.6 M180.0 48.1 L180.3 48.6 L180.6 49.1 L180.9 49.6 L181.2 50.0 L181.4 50.5 L181.7 50.9 L181.9 51.4 L182.2 51.9 L182.4 52.3 L182.7 52.8 L182.9 53.3 L183.2 53.8 L183.2 53.9 M185.5 58.7 L185.7 59.3 L185.9 59.8 L186.1 60.2 L186.3 60.7 L186.5 61.2 L186.7 61.7 L186.9 62.2 L187.1 62.7 L187.3 63.2 L187.5 63.8 L187.7 64.3 L187.9 64.8 L188.0 65.0 M189.8 70.0 L190.0 70.6 L190.2 71.1 L190.4 71.7 L190.6 72.3 L190.8 72.8 L191.0 73.4 L191.2 74.0 L191.4 74.6 L191.6 75.1 L191.8 75.7 L192.0 76.3 M193.7 81.4 L193.9 82.0 L194.1 82.6 L194.3 83.2 L194.5 83.9 L194.6 84.3 L194.8 84.8 L194.9 85.3 L195.1 85.8 L195.2 86.3 L195.4 86.8 L195.5 87.3 L195.7 87.8 M197.1 93.0 L197.3 93.5 L197.4 94.1 L197.6 94.6 L197.7 95.2 L197.9 95.8 L198.0 96.3 L198.2 96.9 L198.3 97.5 L198.5 98.1 L198.6 98.6 L198.8 99.2 L198.8 99.4 M200.1 104.5 L200.3 105.1 L200.4 105.7 L200.6 106.3 L200.7 106.9 L200.9 107.5 L201.0 108.1 L201.2 108.7 L201.3 109.2 L201.5 109.8 L201.6 110.4 L201.8 111.0 M203.1 116.2 L203.2 116.8 L203.4 117.4 L203.5 118.0 L203.7 118.6 L203.8 119.2 L204.0 119.8 L204.1 120.4 L204.3 121.0 L204.4 121.6 L204.6 122.2 L204.7 122.7 M205.9 128.0 L206.1 128.7 L206.2 129.3 L206.4 130.0 L206.5 130.7 L206.7 131.4 L206.8 132.0 L207.0 132.8 L207.1 133.3 L207.2 133.8 L207.3 134.3 M208.2 139.7 L208.3 140.2 L208.4 140.8 L208.5 141.4 L208.6 142.0 L208.7 142.6 L208.8 143.1 L208.9 143.7 L209.0 144.2 L209.1 144.8 L209.2 145.3 L209.3 145.8 L209.4 146.1 M210.8 151.4 L211.0 151.9 L211.2 152.5 L211.4 153.0 L211.6 153.4 L211.8 154.0 L212.1 154.4 L212.4 154.9 L212.7 155.4 L213.0 155.8 L213.3 156.2 L213.6 156.6 L214.0 156.9 L214.2 157.0 M217.6 153.5 L217.8 153.0 L218.0 152.5 L218.3 151.9 L218.5 151.4 L218.8 150.8 L219.0 150.2 L219.2 149.8 L219.4 149.3 L219.6 148.8 L219.8 148.3 L220.0 147.7 L220.2 147.3 M221.9 142.2 L222.0 141.7 L222.2 141.3 L222.3 140.8 L222.5 140.3 L222.6 139.8 L222.8 139.3 L222.9 138.8 L223.1 138.3 L223.2 137.8 L223.4 137.3 L223.5 136.8 L223.7 136.3 L223.8 135.9 M225.4 130.8 L225.6 130.2 L225.8 129.6 L226.0 129.0 L226.2 128.4 L226.4 127.8 L226.6 127.2 L226.8 126.6 L227.0 126.0 L227.2 125.4 L227.4 124.8 L227.5 124.5 M229.2 119.3 L229.4 118.7 L229.6 118.1 L229.8 117.5 L230.0 117.0 L230.1 116.5 L230.3 116.0 L230.4 115.5 L230.6 115.1 L230.8 114.4 L231.0 113.8 L231.2 113.2 L231.2 113.0 M233.0 108.0 L233.2 107.5 L233.4 107.0 L233.6 106.6 L233.8 106.1 L234.1 105.5 L234.3 105.0 L234.6 104.4 L234.8 103.9 L235.1 103.3 L235.3 102.8 L235.6 102.3 L235.8 101.9 M238.5 97.3 L238.8 96.9 L239.1 96.4 L239.4 96.0 L239.7 95.5 L240.0 95.1 L240.3 94.7 L240.6 94.2 L241.0 93.8 L241.3 93.4 L241.7 93.0 L242.1 92.6 L242.5 92.3 L242.7 92.2 M247.7 90.4 L248.2 90.3 L248.7 90.3 L249.2 90.4 L249.7 90.6 L250.1 90.9 L250.5 91.3 L250.9 91.7 L251.2 92.1 L251.6 92.5 L251.9 93.0 L252.2 93.4 L252.5 93.8 L252.7 94.1 M255.6 98.6 L255.9 99.1 L256.1 99.5 L256.4 100.0 L256.6 100.5 L256.9 100.9 L257.1 101.4 L257.4 101.8 L257.7 102.3 L258.0 102.8 L258.3 103.3 L258.6 103.8 L258.9 104.3 L258.9 104.4 M261.7 108.9 L262.0 109.3 L262.3 109.7 L262.7 110.2 L263.0 110.6 L263.4 110.9 L263.8 111.3 L264.2 111.6 L264.6 111.9 L265.1 112.3 L265.5 112.6 L266.0 112.8 L266.4 113.1 L266.7 113.3 M271.8 114.7 L272.3 114.8 L272.8 114.8 L273.3 114.9 L273.8 114.9 L274.3 114.9 L274.8 115.0 L275.3 115.0 L275.8 115.0 L276.3 115.0 L276.8 115.0 L277.3 114.9 L277.8 114.9 L278.3 114.8 L278.5 114.8 M283.6 113.4 L284.1 113.3 L284.6 113.1 L285.1 113.0 L285.6 112.8 L286.1 112.7 L286.6 112.5 L287.1 112.3 L287.6 112.1 L288.1 111.9 L288.6 111.7 L289.1 111.5 L289.6 111.3 L290.0 111.2 M294.9 109.0 L295.4 108.8 L295.9 108.6 L296.4 108.4 L296.9 108.2 L297.4 108.0 L297.9 107.8 L298.4 107.6 L298.9 107.4 L299.4 107.2 L299.9 107.0 L300.4 106.8 L300.9 106.6 L301.2 106.5 M306.2 104.6 L306.7 104.5 L307.2 104.3 L307.7 104.1 L308.2 103.9 L308.7 103.8 L309.2 103.6 L309.7 103.4 L310.2 103.2 L310.7 103.0 L311.2 102.9 L311.7 102.7 L312.2 102.5 L312.6 102.4 M317.7 100.6 L318.2 100.5 L318.7 100.3 L319.2 100.2 L319.7 100.0 L320.2 99.9 L320.7 99.7 L321.2 99.6 L321.7 99.5 L322.2 99.4 L322.7 99.3 L323.2 99.2 L323.7 99.1 L324.2 99.0 L324.3 99.0 M329.5 98.1 L330.0 98.0 L330.5 97.9 L331.0 97.9 L331.5 97.8 L332.0 97.7 L332.5 97.7 L333.0 97.6 L333.5 97.5 L334.0 97.5 L334.5 97.4 L335.0 97.4 L335.5 97.3 L336.0 97.3 L336.3 97.2 M341.6 96.9 L342.1 96.9 L342.6 96.9 L343.1 96.9 L343.6 96.9 L344.1 96.8 L344.6 96.8 L345.1 96.8 L345.6 96.8 L346.1 96.8 L346.6 96.8 L347.1 96.7 L347.6 96.7 L348.1 96.7 L348.4 96.7 M353.7 96.6 L354.2 96.6 L354.7 96.6 L355.2 96.6 L355.7 96.6 L356.2 96.6 L356.7 96.6 L357.2 96.6 L357.7 96.6 L358.2 96.6 L358.7 96.6 L359.2 96.6 L359.7 96.7 L360.2 96.7 L360.5 96.7 M365.8 97.0 L366.3 97.0 L366.8 97.0 L367.3 97.1 L367.8 97.1 L368.3 97.1 L368.8 97.2 L369.3 97.2 L369.8 97.2 L370.3 97.3 L370.8 97.3 L371.3 97.3 L371.8 97.4 L372.3 97.4 L372.6 97.4 M377.9 98.1 L378.4 98.1 L378.9 98.2 L379.4 98.3 L379.9 98.4 L380.4 98.5 L380.9 98.6 L381.4 98.6 L381.9 98.7 L382.4 98.8 L382.9 98.9 L383.4 99.0 L383.9 99.1 L384.4 99.2 L384.6 99.3 M389.8 100.4 L390.3 100.6 L390.8 100.7 L391.3 100.9 L391.8 101.0 L392.3 101.2 L392.8 101.3 L393.3 101.5 L393.8 101.7 L394.3 101.8 L394.8 102.0 L395.3 102.2 L395.8 102.4 L396.2 102.5 M401.1 104.4 L401.6 104.6 L402.1 104.9 L402.6 105.1 L403.1 105.3 L403.6 105.5 L404.1 105.7 L404.6 106.0 L405.1 106.2 L405.6 106.5 L406.0 106.7 L406.5 106.9 L406.9 107.1 L407.2 107.3 M411.7 109.8 L412.2 110.1 L412.6 110.4 L413.1 110.7 L413.5 111.0 L414.0 111.3 L414.4 111.6 L414.9 111.9 L415.3 112.2 L415.8 112.6 L416.2 112.9 L416.6 113.2 L417.0 113.5 L417.2 113.7 M421.1 117.1 L421.5 117.5 L421.9 117.9 L422.3 118.3 L422.7 118.7 L423.1 119.1 L423.5 119.5 L423.8 119.8 L424.2 120.2 L424.5 120.6 L424.9 121.0 L425.2 121.4 L425.6 121.8 L425.8 122.0 M428.9 126.2 L429.2 126.6 L429.5 127.1 L429.8 127.6 L430.1 128.1 L430.3 128.5 L430.6 129.0 L430.8 129.5 L431.1 130.0 L431.3 130.6 L431.6 131.2 L431.8 131.6 L432.0 132.1 M433.9 137.0 L434.1 137.5 L434.3 138.1 L434.5 138.6 L434.7 139.1 L434.9 139.6 L435.1 140.2 L435.3 140.7 L435.5 141.2 L435.7 141.7 L435.9 142.2 L436.1 142.7 L436.3 143.3 M438.1 148.2 L438.3 148.8 L438.5 149.4 L438.7 149.9 L438.9 150.5 L439.1 151.1 L439.3 151.7 L439.5 152.3 L439.7 152.9 L439.9 153.5 L440.1 154.0 L440.2 154.5 M441.7 159.7 L441.8 160.3 L442.0 160.8 L442.1 161.3 L442.3 161.9 L442.4 162.4 L442.6 162.9 L442.7 163.4 L442.9 163.9 L443.1 164.5 L443.2 165.0 L443.4 165.5 L443.5 166.1 M445.5 170.5 L445.8 170.0 L446.0 169.4 L446.1 168.8 L446.3 168.2 L446.4 167.6 L446.6 166.9 L446.7 166.2 L446.9 165.6 L447.0 165.0 L447.2 164.4 L447.2 164.1 M448.4 158.7 L448.5 158.2 L448.6 157.7 L448.7 157.1 L448.8 156.6 L448.9 156.0 L449.0 155.4 L449.1 154.8 L449.2 154.2 L449.3 153.6 L449.4 152.9 L449.5 152.3 M450.3 146.9 L450.4 146.3 L450.5 145.8 L450.6 145.2 L450.7 144.7 L450.8 144.1 L450.9 143.7 L451.1 142.9 L451.2 142.4 L451.3 141.9 L451.4 141.4 L451.5 140.9 L451.5 140.7 M452.8 135.4 L453.0 134.8 L453.2 134.3 L453.4 133.8 L453.7 133.3 L453.9 132.8 L454.2 132.3 L454.5 131.9 L454.9 131.5 L455.3 131.1 L455.7 130.9 L456.2 130.7 L456.7 130.5 L456.9 130.5 M461.4 132.4 L461.9 132.6 L462.3 132.8 L462.8 133.1 L463.2 133.3 L463.7 133.6 L464.1 133.9 L464.5 134.2 L464.9 134.5 L465.3 134.9 L465.7 135.2 L466.1 135.6 L466.5 135.9 L466.9 136.2 M471.4 139.0 L471.8 139.2 L472.3 139.5 L472.7 139.7 L473.2 139.9 L473.7 140.2 L474.2 140.4 L474.7 140.6 L475.2 140.7 L475.7 140.9 L476.2 141.1 L476.7 141.2 L477.2 141.4 L477.6 141.5 M482.6 142.7 L483.1 142.8 L483.6 142.8 L484.1 142.9 L484.6 142.9 L485.1 143.0 L485.6 143.0 L486.1 143.0 L486.6 143.0 L487.1 143.0 L487.6 142.9 L488.1 142.9 L488.6 142.8 L489.1 142.8 L489.3 142.7 M494.4 141.7 L494.9 141.6 L495.4 141.4 L495.9 141.3 L496.4 141.2 L496.9 141.1 L497.4 140.9 L497.9 140.8 L498.4 140.7 L498.9 140.5 L499.4 140.4 L499.9 140.2 L500.4 140.0 L500.9 139.9 M505.7 138.0 L506.2 137.8 L506.7 137.6 L507.2 137.3 L507.7 137.1 L508.2 136.9 L508.7 136.7 L509.2 136.5 L509.7 136.2 L510.2 136.0 L510.7 135.8 L511.1 135.5 L511.6 135.3 L511.8 135.2 M516.4 132.6 L516.9 132.4 L517.3 132.1 L517.8 131.8 L518.2 131.6 L518.7 131.3 L519.1 131.0 L519.6 130.8 L520.0 130.5 L520.5 130.2 L520.9 129.9 L521.4 129.6 L521.8 129.3 L522.1 129.1 M526.5 126.2 L526.9 125.9 L527.4 125.7 L527.8 125.4 L528.3 125.2 L528.7 124.9 L529.2 124.6 L529.6 124.4 L530.1 124.2 L530.5 123.9 L531.0 123.7 L531.4 123.4 L531.9 123.2 L532.3 122.9 M536.9 120.4 L537.3 120.2 L537.8 119.9 L538.2 119.6 L538.7 119.4 L539.1 119.1 L539.6 118.8 L540.0 118.5 L540.5 118.2 L540.9 117.9 L541.4 117.6 L541.8 117.3 L542.3 116.9 L542.6 116.7 M546.8 113.5 L547.2 113.2 L547.6 112.8 L548.0 112.5 L548.4 112.2 L548.8 111.9 L549.2 111.5 L549.6 111.2 L550.0 110.9 L550.4 110.5 L550.8 110.2 L551.2 109.9 L551.6 109.5 L552.0 109.2 L552.0 109.2 M556.1 105.8 L556.5 105.4 L556.9 105.1 L557.3 104.7 L557.7 104.4 L558.1 104.0 L558.5 103.7 L558.9 103.4 L559.3 103.0 L559.7 102.6 L560.1 102.3 L560.5 101.9 L560.9 101.6 L561.2 101.3 M565.2 97.8 L565.6 97.4 L566.0 97.0 L566.4 96.7 L566.8 96.3 L567.2 96.0 L567.6 95.6 L568.0 95.2 L568.4 94.9 L568.8 94.5 L569.2 94.1 L569.6 93.7 L570.0 93.4 L570.2 93.2 M574.1 89.5 L574.5 89.2 L574.9 88.8 L575.3 88.4 L575.7 88.1 L576.1 87.7 L576.5 87.4 L576.9 87.0 L577.3 86.6 L577.7 86.3 L578.1 85.9 L578.5 85.6 L578.9 85.3 L579.2 85.0 M583.3 81.7 L583.7 81.3 L584.1 80.9 L584.4 80.6 L584.8 80.1 L585.1 79.7 L585.5 79.3 L585.8 78.8 L586.1 78.4 L586.4 78.0 L586.7 77.6 L587.0 77.1 L587.3 76.6 L587.4 76.4 M590.3 71.9 L590.6 71.4 L590.9 70.9 L591.2 70.5 L591.5 70.0 L591.8 69.6 L592.1 69.2 L592.4 68.8 L592.7 68.4 L593.1 67.9 L593.4 67.5 L593.8 67.1 L594.1 66.7 L594.3 66.5 M598.0 62.6 L598.4 62.2 L598.8 61.8 L599.2 61.5 L599.6 61.1 L600.0 60.7 L600.4 60.3 L600.8 60.0 L601.2 59.6 L601.6 59.2 L602.0 58.8 L602.4 58.5 L602.8 58.1 L602.9 58.0 M606.9 54.4 L607.3 54.1 L607.7 53.7 L608.1 53.4 L608.5 53.0 L608.9 52.7 L609.3 52.3 L609.7 52.0 L610.1 51.7 L610.5 51.3 L610.9 51.0 L611.3 50.7 L611.7 50.4 L612.1 50.1 L612.1 50.0 M616.5 47.0 L616.9 46.7 L617.4 46.4 L617.8 46.0 L618.3 45.7 L618.7 45.4 L619.2 45.1 L619.6 44.9 L620.1 44.7 L620.6 44.4 L621.1 44.2 L621.6 44.1 L622.1 44.0 L622.5 44.0 M627.8 44.3 L628.3 44.4 L628.8 44.4 L629.3 44.5 L629.8 44.6 L630.3 44.7 L630.8 44.8 L631.3 44.9 L631.8 45.1 L632.3 45.3 L632.8 45.5 L633.3 45.7 L633.8 45.9 L634.3 46.1 L634.3 46.1 M639.0 48.6 L639.4 48.9 L639.9 49.1 L640.3 49.4 L640.8 49.7 L641.2 49.9 L641.7 50.2 L642.1 50.4 L642.6 50.7 L643.0 50.9 L643.5 51.2 L643.9 51.5 L644.4 51.7 L644.8 51.9 L644.9 52.0 M649.7 54.2 L650.2 54.4 L650.7 54.5 L651.2 54.7 L651.7 54.9 L652.2 55.1 L652.7 55.2 L653.2 55.4 L653.7 55.5 L654.2 55.7 L654.7 55.8 L655.2 55.9 L655.7 56.0 L656.2 56.1 L656.3 56.1 M661.5 57.0 L662.0 57.0 L662.5 57.0 L663.0 57.0 L663.5 57.0 L664.0 57.0 L664.5 57.0 L665.0 57.0 L665.5 57.0 L666.0 57.0 L666.5 57.0 L667.0 57.0 L667.5 57.0 L668.0 57.0 L668.2 57.0" stroke="#a8a8a8" stroke-width="2"/>
<path d="M96.2 13.6 L96.7 13.6 L97.2 13.6 L97.7 13.7 L98.2 13.7 L98.7 13.7 L99.2 13.7 L99.7 13.8 L100.2 13.8 L100.7 13.8 L101.2 13.8 L101.7 13.9 L102.2 13.9 L102.3 13.9 M107.6 14.2 L108.1 14.2 L108.6 14.2 L109.1 14.3 L109.6 14.3 L110.1 14.3 L110.6 14.3 L111.1 14.4 L111.6 14.4 L112.1 14.4 L112.6 14.4 L113.1 14.5 L113.6 14.5 L114.1 14.5 L114.4 14.5 M119.6 14.8 L120.1 14.9 L120.6 14.9 L121.1 14.9 L121.6 15.0 L122.1 15.0 L122.6 15.1 L123.1 15.1 L123.6 15.2 L124.1 15.2 L124.6 15.3 L125.1 15.4 L125.6 15.4 L126.1 15.5 L126.4 15.6 M131.6 16.5 L132.1 16.6 L132.6 16.7 L133.1 16.8 L133.6 16.9 L134.1 17.0 L134.6 17.1 L135.1 17.2 L135.6 17.3 L136.1 17.4 L136.6 17.5 L137.1 17.7 L137.6 17.8 L138.1 17.9 L138.2 17.9 M143.4 19.2 L143.9 19.4 L144.4 19.5 L144.9 19.7 L145.4 19.8 L145.9 20.0 L146.4 20.1 L146.9 20.3 L147.4 20.5 L147.9 20.6 L148.4 20.8 L148.9 21.0 L149.4 21.2 L149.8 21.3 M154.7 23.4 L155.2 23.6 L155.7 23.9 L156.2 24.1 L156.6 24.3 L157.1 24.5 L157.5 24.8 L158.0 25.0 L158.4 25.2 L158.9 25.5 L159.3 25.7 L159.8 26.0 L160.2 26.2 L160.7 26.5 L160.7 26.5 M165.1 29.4 L165.5 29.8 L165.9 30.1 L166.3 30.4 L166.7 30.7 L167.1 31.1 L167.5 31.5 L167.9 31.8 L168.2 32.2 L168.6 32.6 L168.9 33.0 L169.3 33.4 L169.6 33.8 L169.9 34.2 M173.1 38.4 L173.4 38.9 L173.7 39.3 L174.0 39.7 L174.3 40.1 L174.6 40.5 L174.9 40.9 L175.2 41.3 L175.5 41.8 L175.8 42.2 L176.1 42.6 L176.4 43.0 L176.7 43.4 L177.0 43.9 M180.0 48.3 L180.3 48.8 L180.6 49.3 L180.9 49.8 L181.2 50.3 L181.4 50.8 L181.7 51.2 L181.9 51.7 L182.2 52.1 L182.4 52.6 L182.7 53.1 L182.9 53.6 L183.2 54.1 L183.2 54.2 M185.5 59.0 L185.8 59.5 L186.0 60.1 L186.2 60.6 L186.4 61.0 L186.6 61.5 L186.8 62.0 L187.0 62.5 L187.2 63.0 L187.4 63.5 L187.6 64.0 L187.8 64.5 L188.0 65.1 L188.1 65.2 M189.9 70.2 L190.1 70.8 L190.3 71.3 L190.5 71.9 L190.7 72.4 L190.9 73.0 L191.1 73.5 L191.3 74.1 L191.5 74.6 L191.7 75.2 L191.9 75.7 L192.1 76.3 L192.2 76.4 M194.0 81.6 L194.2 82.2 L194.4 82.8 L194.6 83.4 L194.8 84.0 L195.0 84.7 L195.2 85.3 L195.3 85.8 L195.5 86.3 L195.6 86.8 L195.8 87.3 L195.9 87.8 L196.0 87.9 M197.4 93.0 L197.6 93.6 L197.7 94.1 L197.9 94.7 L198.0 95.2 L198.2 95.8 L198.3 96.4 L198.5 96.9 L198.6 97.5 L198.8 98.1 L198.9 98.7 L199.1 99.2 L199.1 99.4 M200.5 104.8 L200.6 105.4 L200.8 106.0 L200.9 106.6 L201.1 107.2 L201.2 107.8 L201.4 108.4 L201.5 109.0 L201.7 109.6 L201.8 110.2 L202.0 110.8 L202.1 111.2 M203.3 116.3 L203.5 117.0 L203.6 117.6 L203.8 118.2 L203.9 118.9 L204.1 119.5 L204.2 120.1 L204.4 120.8 L204.5 121.4 L204.7 122.1 L204.8 122.7 M206.0 128.1 L206.2 128.8 L206.3 129.5 L206.5 130.2 L206.6 130.9 L206.8 131.6 L206.9 132.3 L207.1 133.0 L207.2 133.8 L207.3 134.2 L207.4 134.5 M208.4 139.9 L208.5 140.5 L208.6 141.0 L208.7 141.6 L208.8 142.2 L208.9 142.8 L209.0 143.4 L209.1 144.0 L209.2 144.6 L209.3 145.2 L209.4 145.8 L209.5 146.4 M210.4 151.7 L210.5 152.2 L210.6 152.8 L210.7 153.4 L210.8 153.9 L210.9 154.5 L211.0 155.0 L211.1 155.6 L211.2 156.1 L211.3 156.6 L211.4 157.1 L211.5 157.6 L211.6 158.1 M212.8 163.5 L212.9 164.1 L213.1 164.7 L213.2 165.3 L213.4 165.9 L213.5 166.5 L213.7 167.1 L213.8 167.7 L214.0 168.2 L214.1 168.8 L214.3 169.3 L214.4 169.8 M216.0 175.1 L216.2 175.7 L216.4 176.2 L216.7 176.7 L217.0 177.0 L217.4 177.4 L217.9 177.6 L218.4 177.7 L218.9 177.5 L219.3 177.1 L219.6 176.7 L220.0 176.2 L220.2 175.7 M221.9 170.6 L222.1 170.1 L222.2 169.6 L222.4 169.1 L222.5 168.6 L222.7 168.1 L222.8 167.6 L223.0 167.1 L223.1 166.5 L223.3 166.0 L223.4 165.5 L223.6 164.9 L223.7 164.4 L223.8 164.2 M225.1 159.0 L225.3 158.4 L225.4 157.8 L225.6 157.2 L225.7 156.6 L225.9 156.0 L226.0 155.4 L226.2 154.8 L226.3 154.1 L226.5 153.5 L226.6 152.9 L226.7 152.4 M227.9 147.2 L228.1 146.5 L228.2 145.9 L228.4 145.2 L228.5 144.5 L228.7 143.9 L228.8 143.2 L229.0 142.5 L229.1 141.9 L229.3 141.2 L229.4 140.8 M230.6 135.4 L230.8 134.8 L230.9 134.2 L231.1 133.6 L231.2 133.0 L231.4 132.4 L231.5 131.7 L231.7 131.1 L231.8 130.5 L232.0 129.9 L232.1 129.3 L232.2 129.0 M233.4 123.8 L233.6 123.2 L233.7 122.6 L233.9 122.0 L234.0 121.4 L234.2 120.8 L234.3 120.2 L234.5 119.6 L234.6 119.0 L234.8 118.4 L234.9 117.8 L235.0 117.4 M236.4 112.2 L236.6 111.7 L236.7 111.2 L236.9 110.7 L237.0 110.2 L237.2 109.7 L237.4 109.1 L237.6 108.5 L237.8 107.9 L238.0 107.3 L238.2 106.8 L238.4 106.2 L238.5 105.9 M240.4 100.9 L240.6 100.5 L240.8 100.0 L241.0 99.5 L241.2 99.1 L241.4 98.6 L241.7 98.0 L241.9 97.5 L242.2 96.9 L242.4 96.3 L242.7 95.8 L242.9 95.2 L243.1 94.8 M245.4 89.9 L245.6 89.4 L245.9 89.0 L246.1 88.5 L246.4 88.0 L246.6 87.6 L246.9 87.1 L247.2 86.6 L247.5 86.2 L247.8 85.7 L248.1 85.3 L248.4 84.9 L248.7 84.4 L248.9 84.2 M252.8 80.7 L253.2 80.4 L253.7 80.2 L254.2 80.0 L254.7 79.9 L255.2 79.8 L255.7 79.8 L256.2 79.9 L256.7 79.9 L257.2 80.0 L257.7 80.1 L258.2 80.3 L258.7 80.4 L259.2 80.6 L259.3 80.6 M263.7 83.5 L264.0 83.8 L264.4 84.3 L264.7 84.7 L265.0 85.1 L265.3 85.6 L265.6 86.0 L265.9 86.5 L266.2 87.0 L266.5 87.5 L266.8 88.0 L267.1 88.5 L267.4 89.0 L267.5 89.1 M270.3 93.6 L270.6 94.0 L270.9 94.4 L271.2 94.9 L271.5 95.3 L271.8 95.8 L272.1 96.2 L272.4 96.6 L272.7 97.0 L273.0 97.5 L273.3 97.9 L273.6 98.3 L273.9 98.7 L274.1 99.1 M277.3 103.3 L277.7 103.7 L278.0 104.2 L278.4 104.6 L278.7 105.1 L279.1 105.5 L279.4 105.9 L279.8 106.3 L280.1 106.7 L280.5 107.1 L280.9 107.5 L281.3 107.9 L281.7 108.2 L281.8 108.3 M286.3 111.0 L286.8 111.1 L287.3 111.2 L287.8 111.2 L288.3 111.3 L288.8 111.3 L289.3 111.4 L289.8 111.4 L290.3 111.5 L290.8 111.5 L291.3 111.5 L291.8 111.5 L292.3 111.5 L292.8 111.5 L293.0 111.5 M298.2 110.4 L298.7 110.3 L299.2 110.2 L299.7 110.1 L300.2 110.0 L300.7 109.8 L301.2 109.7 L301.7 109.6 L302.2 109.4 L302.7 109.3 L303.2 109.1 L303.7 108.9 L304.2 108.8 L304.7 108.6 L304.7 108.6 M309.7 106.8 L310.2 106.6 L310.7 106.4 L311.2 106.3 L311.7 106.1 L312.2 105.9 L312.7 105.8 L313.2 105.6 L313.7 105.4 L314.2 105.3 L314.7 105.1 L315.2 104.9 L315.7 104.7 L316.1 104.6 M321.1 102.9 L321.6 102.8 L322.1 102.6 L322.6 102.4 L323.1 102.3 L323.6 102.1 L324.1 102.0 L324.6 101.8 L325.1 101.7 L325.6 101.5 L326.1 101.4 L326.6 101.2 L327.1 101.1 L327.6 100.9 M332.7 99.5 L333.2 99.3 L333.7 99.2 L334.2 99.1 L334.7 98.9 L335.2 98.8 L335.7 98.7 L336.2 98.5 L336.7 98.4 L337.2 98.3 L337.7 98.2 L338.2 98.0 L338.7 97.9 L339.2 97.8 L339.2 97.8 M344.4 96.6 L344.9 96.5 L345.4 96.4 L345.9 96.3 L346.4 96.2 L346.9 96.1 L347.4 95.9 L347.9 95.8 L348.4 95.7 L348.9 95.6 L349.4 95.5 L349.9 95.4 L350.4 95.3 L350.9 95.3 L351.0 95.2 M356.2 94.4 L356.7 94.3 L357.2 94.2 L357.7 94.1 L358.2 94.1 L358.7 94.0 L359.2 93.9 L359.7 93.9 L360.2 93.8 L360.7 93.7 L361.2 93.6 L361.7 93.6 L362.2 93.5 L362.7 93.4 L362.9 93.4 M368.2 92.8 L368.7 92.8 L369.2 92.7 L369.7 92.7 L370.2 92.7 L370.7 92.7 L371.2 92.6 L371.7 92.6 L372.2 92.6 L372.7 92.6 L373.2 92.6 L373.7 92.6 L374.2 92.5 L374.7 92.5 L375.0 92.5 M380.2 92.4 L380.7 92.4 L381.2 92.4 L381.7 92.4 L382.2 92.4 L382.7 92.4 L383.2 92.4 L383.7 92.4 L384.2 92.4 L384.7 92.4 L385.2 92.4 L385.7 92.4 L386.2 92.5 L386.7 92.5 L387.0 92.5 M392.3 93.1 L392.8 93.1 L393.3 93.2 L393.8 93.3 L394.3 93.3 L394.8 93.4 L395.3 93.5 L395.8 93.6 L396.3 93.6 L396.8 93.7 L397.3 93.8 L397.8 93.9 L398.3 94.0 L398.8 94.1 L399.0 94.2 M404.0 95.6 L404.5 95.8 L405.0 96.0 L405.5 96.1 L406.0 96.3 L406.5 96.5 L407.0 96.7 L407.5 96.8 L408.0 97.0 L408.5 97.2 L409.0 97.4 L409.5 97.6 L410.0 97.8 L410.4 98.0 M415.1 100.4 L415.6 100.6 L416.0 100.9 L416.5 101.1 L416.9 101.4 L417.4 101.7 L417.8 101.9 L418.3 102.2 L418.7 102.4 L419.2 102.7 L419.6 103.0 L420.1 103.2 L420.5 103.5 L421.0 103.8 M425.3 106.8 L425.7 107.1 L426.1 107.4 L426.5 107.7 L426.9 108.1 L427.3 108.4 L427.7 108.8 L428.1 109.1 L428.5 109.5 L428.9 109.9 L429.2 110.3 L429.6 110.7 L429.9 111.1 L430.2 111.4 M433.3 115.7 L433.6 116.1 L433.9 116.5 L434.2 117.0 L434.5 117.4 L434.8 117.8 L435.1 118.2 L435.5 118.7 L435.8 119.1 L436.2 119.6 L436.5 120.0 L436.9 120.4 L437.2 120.9 L437.4 121.1 M440.2 125.6 L440.5 126.1 L440.7 126.6 L440.9 127.1 L441.1 127.7 L441.3 128.3 L441.5 128.9 L441.7 129.4 L441.8 129.9 L442.0 130.5 L442.1 131.0 L442.3 131.6 L442.3 131.8 M443.6 137.2 L443.8 137.8 L443.9 138.5 L444.1 139.2 L444.2 139.7 L444.3 140.2 L444.4 140.8 L444.5 141.3 L444.6 141.8 L444.7 142.4 L444.8 142.9 L444.9 143.5 M445.9 149.0 L446.0 149.6 L446.1 150.1 L446.2 150.6 L446.3 151.2 L446.4 151.8 L446.5 152.3 L446.6 152.9 L446.7 153.5 L446.8 154.1 L446.9 154.7 L447.0 155.3 M448.0 160.8 L448.1 161.5 L448.3 162.1 L448.4 162.6 L448.6 163.1 L448.8 163.7 L449.0 164.2 L449.2 164.7 L449.5 165.3 L449.8 165.7 L450.2 165.9 L450.6 165.5 L450.8 165.2 M453.1 160.5 L453.3 160.0 L453.5 159.5 L453.7 158.9 L453.9 158.3 L454.1 157.7 L454.2 157.2 L454.4 156.7 L454.5 156.2 L454.7 155.7 L454.8 155.1 L455.0 154.6 L455.1 154.2 M456.4 148.8 L456.5 148.1 L456.7 147.5 L456.8 146.8 L457.0 146.2 L457.1 145.5 L457.3 144.9 L457.4 144.2 L457.6 143.5 L457.7 143.0 L457.8 142.5 M458.8 137.2 L459.0 136.5 L459.1 135.8 L459.3 135.2 L459.4 134.7 L459.6 134.2 L459.8 133.6 L460.0 133.0 L460.2 132.4 L460.4 131.9 L460.6 131.3 L460.8 130.8 M464.2 126.8 L464.6 126.6 L465.1 126.4 L465.6 126.3 L466.1 126.3 L466.7 126.3 L467.2 126.3 L467.8 126.3 L468.3 126.3 L468.9 126.3 L469.4 126.3 L470.0 126.3 L470.5 126.3 L470.9 126.3 M476.0 127.6 L476.5 127.8 L477.0 128.0 L477.5 128.2 L478.0 128.3 L478.5 128.5 L479.0 128.7 L479.5 128.9 L480.0 129.0 L480.5 129.1 L481.0 129.3 L481.5 129.5 L482.0 129.6 L482.4 129.8 M487.4 131.3 L487.9 131.4 L488.4 131.5 L488.9 131.5 L489.4 131.6 L489.9 131.6 L490.4 131.6 L491.0 131.6 L491.5 131.6 L492.1 131.6 L492.6 131.6 L493.2 131.6 L493.7 131.6 L494.2 131.6 M499.5 131.6 L500.1 131.6 L500.6 131.6 L501.2 131.6 L501.7 131.6 L502.3 131.6 L502.8 131.6 L503.4 131.6 L503.9 131.6 L504.4 131.6 L504.9 131.6 L505.4 131.6 L505.9 131.5 L506.3 131.5 M511.6 131.0 L512.1 130.9 L512.6 130.9 L513.1 130.8 L513.6 130.8 L514.1 130.7 L514.6 130.6 L515.1 130.6 L515.6 130.5 L516.1 130.5 L516.6 130.4 L517.1 130.4 L517.6 130.3 L518.1 130.3 L518.3 130.3 M523.6 129.8 L524.1 129.7 L524.6 129.7 L525.1 129.6 L525.6 129.6 L526.1 129.5 L526.6 129.4 L527.1 129.4 L527.6 129.3 L528.1 129.3 L528.6 129.2 L529.1 129.1 L529.6 129.1 L530.1 129.0 L530.3 128.9 M535.5 128.0 L536.0 127.9 L536.5 127.8 L537.0 127.7 L537.5 127.6 L538.0 127.5 L538.5 127.4 L539.0 127.2 L539.5 127.1 L540.0 127.0 L540.5 126.8 L541.0 126.7 L541.5 126.5 L542.0 126.4 L542.1 126.4 M547.0 124.4 L547.5 124.2 L548.0 124.0 L548.5 123.7 L549.0 123.5 L549.4 123.3 L549.9 123.1 L550.3 122.8 L550.8 122.6 L551.2 122.3 L551.7 122.1 L552.1 121.8 L552.6 121.5 L553.0 121.2 M557.3 118.1 L557.7 117.8 L558.1 117.5 L558.5 117.2 L558.9 116.8 L559.3 116.5 L559.7 116.2 L560.1 115.9 L560.5 115.6 L560.9 115.2 L561.3 114.9 L561.7 114.6 L562.1 114.2 L562.5 113.9 L562.6 113.8 M566.5 110.2 L566.9 109.8 L567.3 109.4 L567.7 109.0 L568.1 108.6 L568.5 108.2 L568.9 107.8 L569.3 107.4 L569.7 107.0 L570.1 106.7 L570.5 106.2 L570.9 105.8 L571.3 105.5 L571.3 105.4 M575.0 101.5 L575.3 101.2 L575.7 100.8 L576.0 100.4 L576.4 100.0 L576.7 99.6 L577.1 99.2 L577.4 98.8 L577.8 98.4 L578.1 98.1 L578.5 97.7 L578.8 97.3 L579.2 96.9 L579.5 96.5 M583.1 92.5 L583.5 92.2 L583.8 91.8 L584.2 91.4 L584.5 91.0 L584.9 90.6 L585.2 90.2 L585.6 89.8 L585.9 89.4 L586.3 89.0 L586.6 88.6 L587.0 88.2 L587.3 87.8 L587.6 87.5 M590.9 83.3 L591.2 82.8 L591.6 82.4 L591.9 82.0 L592.2 81.6 L592.5 81.2 L592.8 80.8 L593.1 80.4 L593.4 80.0 L593.7 79.6 L594.0 79.2 L594.3 78.7 L594.7 78.2 L594.9 77.9 M598.2 73.7 L598.6 73.3 L598.9 72.9 L599.3 72.5 L599.6 72.0 L600.0 71.6 L600.3 71.2 L600.7 70.8 L601.0 70.4 L601.4 70.0 L601.7 69.6 L602.1 69.1 L602.4 68.7 L602.6 68.5 M606.0 64.5 L606.4 64.1 L606.7 63.6 L607.1 63.2 L607.4 62.8 L607.8 62.4 L608.1 61.9 L608.5 61.5 L608.8 61.1 L609.2 60.7 L609.5 60.2 L609.9 59.8 L610.2 59.4 L610.3 59.2 M613.7 55.1 L614.1 54.7 L614.4 54.3 L614.8 53.9 L615.1 53.5 L615.5 53.1 L615.8 52.7 L616.2 52.3 L616.5 51.9 L616.9 51.5 L617.2 51.0 L617.6 50.6 L617.9 50.2 L618.1 50.0 M621.7 46.0 L622.0 45.6 L622.4 45.2 L622.7 44.9 L623.1 44.5 L623.5 44.1 L623.9 43.7 L624.3 43.3 L624.7 43.0 L625.1 42.6 L625.5 42.2 L625.9 41.9 L626.3 41.5 L626.6 41.3 M631.1 38.6 L631.6 38.4 L632.1 38.2 L632.6 38.1 L633.1 38.0 L633.6 37.9 L634.1 37.9 L634.6 37.9 L635.1 37.9 L635.6 38.0 L636.1 38.0 L636.6 38.1 L637.1 38.1 L637.6 38.2 L637.8 38.3 M642.5 40.5 L642.9 40.8 L643.3 41.1 L643.7 41.4 L644.2 41.8 L644.6 42.1 L645.1 42.4 L645.5 42.7 L646.0 43.0 L646.4 43.3 L646.9 43.6 L647.3 43.9 L647.8 44.1 L648.1 44.3 M652.9 46.5 L653.4 46.6 L653.9 46.8 L654.4 46.9 L654.9 47.1 L655.4 47.2 L655.9 47.4 L656.4 47.5 L656.9 47.6 L657.4 47.6 L657.9 47.7 L658.4 47.7 L658.9 47.7 L659.4 47.7 L659.5 47.7 M664.7 46.8 L665.2 46.7 L665.7 46.6 L666.2 46.5 L666.7 46.4 L667.2 46.2 L667.7 46.1 L668.2 46.0 L668.7 45.8 L669.2 45.7 L669.7 45.6 L670.2 45.4 L670.7 45.3 L671.2 45.1" stroke="#00b050" stroke-width="2"/>
</g>
<g font-size="21.33">
<text x="96.2" y="342.9" text-anchor="middle">0.6</text>
<text x="168.3" y="342.9" text-anchor="middle">0.8</text>
<text x="240.3" y="342.9" text-anchor="middle">1</text>
<text x="312.4" y="342.9" text-anchor="middle">1.2</text>
<text x="384.5" y="342.9" text-anchor="middle">1.4</text>
<text x="456.5" y="342.9" text-anchor="middle">1.6</text>
<text x="528.6" y="342.9" text-anchor="middle">1.8</text>
<text x="600.7" y="342.9" text-anchor="middle">2</text>
<text x="672.8" y="342.9" text-anchor="middle">2.2</text>
<text x="78.6" y="15.1" text-anchor="end">0</text>
<text x="78.6" y="58.4" text-anchor="end">-5</text>
<text x="78.6" y="101.7" text-anchor="end">-10</text>
<text x="78.6" y="145.0" text-anchor="end">-15</text>
<text x="78.6" y="188.3" text-anchor="end">-20</text>
<text x="78.6" y="231.6" text-anchor="end">-25</text>
<text x="78.6" y="274.9" text-anchor="end">-30</text>
<text x="78.6" y="318.1" text-anchor="end">-35</text>
</g>
<text x="394.2" y="373.6" font-size="21.2" text-anchor="middle">Frequency (GHz)</text>
<text transform="translate(16.9 196.2) rotate(-90) scale(0.965 1)" font-size="23.4">S<tspan font-size="15.5" dy="5">|11|</tspan><tspan dy="-5">(dB)</tspan></text>
<line x1="478.0" y1="191.0" x2="521.2" y2="191.0" stroke="#00b050" stroke-width="4.4" stroke-dasharray="14 4.6"/>
<text x="525.8" y="198.0" font-size="15.3">L1 = 31 mm</text>
<line x1="480.0" y1="212.1" x2="523.2" y2="212.1" stroke="#bfbfbf" stroke-width="4.4" stroke-dasharray="14 4.6"/>
<text x="525.8" y="216.1" font-size="15.3">L1 = 32 mm</text>
<line x1="479.2" y1="230.4" x2="522.4" y2="230.4" stroke="#ffff00" stroke-width="4.4" stroke-dasharray="14 4.6"/>
<text x="525.8" y="233.8" font-size="15.3">L1 = 33 mm</text>
<line x1="479.2" y1="248.7" x2="522.4" y2="248.7" stroke="#00b0f0" stroke-width="4.4" stroke-dasharray="14 4.6"/>
<text x="525.8" y="253.0" font-size="15.3">L1 = 34 mm</text>
<line x1="480.0" y1="267.1" x2="523.2" y2="267.1" stroke="#ff0000" stroke-width="4.4" stroke-dasharray="14 4.6"/>
<text x="525.8" y="271.1" font-size="15.3">L1 = 35 mm</text>
<line x1="479.2" y1="286.0" x2="522.4" y2="286.0" stroke="#000000" stroke-width="4.4"/>
<text x="525.8" y="288.8" font-size="15.3">Proposed = 36 mm</text>
</svg></body></html>
